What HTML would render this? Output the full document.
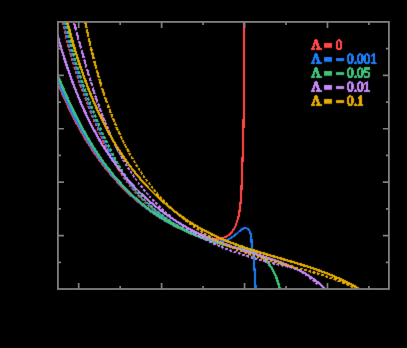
<!DOCTYPE html>
<html><head><meta charset="utf-8"><title>plot</title>
<style>
html,body{margin:0;padding:0;background:#000;}
svg{display:block;}
</style></head>
<body>
<svg width="407" height="348" viewBox="0 0 407 348">
<rect width="407" height="348" fill="#000"/>
<defs><filter id="b" x="-3%" y="-3%" width="106%" height="106%" color-interpolation-filters="sRGB"><feConvolveMatrix order="3" kernelMatrix="0.0144 0.0912 0.0144 0.0912 0.5776 0.0912 0.0144 0.0912 0.0144" divisor="0.88" edgeMode="none" preserveAlpha="false"/></filter><path id="gL" d="M281 -80 461 -53V0H20V-53L165 -80L629 -1352H819L1294 -80L1464 -53V0H897V-53L1077 -80L682 -1197Z"/><path id="g0" d="M946 -676Q946 20 506 20Q294 20 186 -158Q78 -336 78 -676Q78 -1009 186 -1186Q294 -1362 514 -1362Q726 -1362 836 -1188Q946 -1013 946 -676ZM762 -676Q762 -998 701 -1140Q640 -1282 506 -1282Q376 -1282 319 -1148Q262 -1014 262 -676Q262 -336 320 -198Q378 -59 506 -59Q638 -59 700 -204Q762 -350 762 -676Z"/><path id="gp" d="M377 -92Q377 -43 342 -7Q308 29 256 29Q204 29 170 -7Q135 -43 135 -92Q135 -143 170 -178Q205 -213 256 -213Q307 -213 342 -178Q377 -143 377 -92Z"/><path id="g1" d="M627 -80 901 -53V0H180V-53L455 -80V-1174L184 -1077V-1130L575 -1352H627Z"/><path id="g5" d="M485 -784Q717 -784 830 -689Q944 -594 944 -399Q944 -197 821 -88Q698 20 469 20Q279 20 130 -23L119 -305H185L230 -117Q274 -93 336 -78Q397 -63 453 -63Q611 -63 686 -138Q760 -212 760 -389Q760 -513 728 -576Q696 -640 626 -670Q556 -700 438 -700Q347 -700 260 -676H164V-1341H844V-1188H254V-760Q362 -784 485 -784Z"/><clipPath id="c"><rect x="57.9" y="21.9" width="331.0" height="267.1"/></clipPath></defs>
<g clip-path="url(#c)"><g shape-rendering="crispEdges" filter="url(#b)">
<path d="M50.7,68.9 L51.4,70.5 L52.0,72.2 L52.7,73.8 L53.4,75.4 L54.0,77.0 L54.7,78.7 L55.4,80.3 L56.0,81.9 L56.7,83.5 L57.4,85.1 L58.1,86.7 L58.8,88.3 L59.5,90.0 L60.2,91.6 L60.9,93.2 L61.6,94.8 L62.3,96.4 L63.0,98.0 L63.7,99.6 L64.5,101.2 L65.2,102.8 L66.0,104.3 L66.7,105.9 L67.5,107.5 L68.2,109.1 L69.0,110.7 L69.8,112.2 L70.5,113.8 L71.3,115.4 L72.1,117.0 L72.9,118.5 L73.7,120.1 L74.5,121.6 L75.3,123.2 L76.2,124.7 L77.0,126.3 L77.8,127.8 L78.7,129.4 L79.5,130.9 L80.4,132.4 L81.3,133.9 L82.2,135.5 L83.0,137.0 L83.9,138.5 L84.8,140.0 L85.7,141.5 L86.7,143.0 L87.6,144.5 L88.5,146.0 L89.5,147.4 L90.4,148.9 L91.4,150.4 L92.4,151.8 L93.3,153.3 L94.3,154.8 L95.3,156.2 L96.3,157.6 L97.4,159.1 L98.4,160.5 L99.4,161.9 L100.5,163.3 L101.5,164.7 L102.6,166.1 L103.7,167.5 L104.7,168.9 L105.8,170.3 L106.9,171.6 L108.1,173.0 L109.2,174.3 L110.3,175.7 L111.5,177.0 L112.6,178.3 L113.8,179.6 L115.0,180.9 L116.2,182.2 L117.4,183.5 L118.6,184.8 L119.8,186.1 L121.0,187.3 L122.2,188.6 L123.5,189.8 L124.7,191.1 L126.0,192.3 L127.3,193.5 L128.6,194.7 L129.8,195.9 L131.1,197.1 L132.4,198.2 L133.8,199.4 L135.1,200.6 L136.4,201.7 L137.8,202.8 L139.1,203.9 L140.5,205.0 L141.9,206.1 L143.3,207.2 L144.7,208.3 L146.1,209.3 L147.5,210.4 L148.9,211.4 L150.3,212.4 L151.8,213.5 L153.2,214.4 L154.7,215.4 L156.2,216.4 L157.6,217.4 L159.1,218.3 L160.6,219.2 L162.1,220.1 L163.6,221.0 L165.2,221.9 L166.7,222.8 L168.2,223.7 L169.8,224.5 L171.3,225.3 L172.9,226.2 L174.4,227.0 L176.0,227.8 L177.5,228.6 L179.1,229.3 L180.7,230.1 L182.3,230.9 L183.9,231.6 L185.5,232.4 L187.1,233.1 L188.7,233.8 L190.3,234.5 L191.9,235.2 L193.5,235.9 L195.1,236.6 L196.8,237.2 L198.5,237.8 L200.1,238.4 L201.9,238.9 L203.6,239.4 L205.3,239.7 L207.1,240.1 L208.9,240.3 L210.7,240.5 L212.5,240.5 L214.3,240.5 L216.1,240.4 L217.9,240.2 L219.7,239.9 L221.4,239.5 L223.2,239.0 L224.9,238.3 L226.5,237.6 L228.1,236.6 L229.6,235.5 L230.9,234.2 L232.2,232.9 L233.4,231.5 L234.4,230.0 L235.4,228.5 L236.2,226.9 L236.9,225.2 L237.5,223.5 L238.1,221.8 L238.6,220.1 L239.1,218.4 L239.5,216.7 L239.9,215.0 L240.2,213.2 L240.6,211.5 L240.8,209.7 L241.1,208.0 L241.3,206.2 L241.5,204.5 L241.7,202.7 L241.9,201.0 L242.0,199.2 L242.1,197.5 L242.2,195.7 L242.3,194.0 L242.4,192.2 L242.5,190.5 L242.6,188.7 L242.6,187.0 L242.7,185.2 L242.8,183.5 L242.8,181.7 L242.9,180.0 L243.0,178.2 L243.0,176.5 L243.1,174.7 L243.1,173.0 L243.2,171.2 L243.3,169.5 L243.3,167.7 L243.4,166.0 L243.4,164.2 L243.5,162.5 L243.6,160.7 L243.6,159.0 L243.7,157.2 L243.7,155.5 L243.8,153.7 L243.8,152.0 L243.9,150.2 L243.9,148.5 L244.0,146.7 L244.0,145.0 L244.1,143.2 L244.1,141.5 L244.2,139.7 L244.2,138.0 L244.3,136.2 L244.3,134.5 L244.4,132.7 L244.4,131.0 L244.4,129.2 L244.5,127.5 L244.5,125.7 L244.6,124.0 L244.6,122.2 L244.6,120.5 L244.7,118.7 L244.7,117.0 L244.7,115.2 L244.8,113.5 L244.8,111.7 L244.8,110.0 L244.9,108.2 L244.9,106.5 L244.9,104.7 L245.0,103.0 L245.0,101.2 L245.0,99.5 L245.0,97.7 L245.1,96.0 L245.1,94.2 L245.1,92.5 L245.1,90.7 L245.1,89.0 L245.2,87.2 L245.2,85.5 L245.2,83.7 L245.2,82.0 L245.2,80.2 L245.2,78.5 L245.3,76.7 L245.3,75.0 L245.3,73.2 L245.3,71.4 L245.3,69.7 L245.3,67.9 L245.3,66.2 L245.3,64.4 L245.3,62.7 L245.3,60.9 L245.3,59.2 L245.3,57.4 L245.3,55.7 L245.3,53.9 L245.3,52.2 L245.3,50.4 L245.3,48.7 L245.3,46.9 L245.3,45.2 L245.3,43.4 L245.3,41.7 L245.3,39.9 L245.3,38.2 L245.3,36.4 L245.3,34.7 L245.3,32.9 L245.3,31.2 L245.2,29.4 L245.2,27.7 L245.2,25.9 L245.2,24.2 L245.2,22.4 L245.2,20.7 L243.0,20.7 L243.0,22.5 L243.0,24.2 L243.0,26.0 L243.0,27.7 L243.0,29.5 L243.1,31.2 L243.1,33.0 L243.1,34.7 L243.1,36.4 L243.1,38.2 L243.1,39.9 L243.1,41.7 L243.1,43.4 L243.1,45.2 L243.1,46.9 L243.1,48.7 L243.1,50.4 L243.1,52.2 L243.1,53.9 L243.1,55.7 L243.1,57.4 L243.1,59.2 L243.1,60.9 L243.1,62.7 L243.1,64.4 L243.1,66.2 L243.1,67.9 L243.1,69.7 L243.1,71.4 L243.1,73.2 L243.1,74.9 L243.1,76.7 L243.0,78.4 L243.0,80.2 L243.0,81.9 L243.0,83.7 L243.0,85.4 L243.0,87.2 L242.9,88.9 L242.9,90.7 L242.9,92.4 L242.9,94.2 L242.9,95.9 L242.8,97.7 L242.8,99.4 L242.8,101.2 L242.8,102.9 L242.7,104.7 L242.7,106.4 L242.7,108.2 L242.6,109.9 L242.6,111.7 L242.6,113.4 L242.5,115.2 L242.5,116.9 L242.5,118.7 L242.4,120.4 L242.4,122.2 L242.4,123.9 L242.3,125.7 L242.3,127.4 L242.2,129.2 L242.2,130.9 L242.2,132.7 L242.1,134.4 L242.1,136.2 L242.0,137.9 L242.0,139.7 L241.9,141.4 L241.9,143.2 L241.8,144.9 L241.8,146.6 L241.7,148.4 L241.7,150.1 L241.6,151.9 L241.6,153.6 L241.5,155.4 L241.5,157.1 L241.4,158.9 L241.4,160.6 L241.3,162.4 L241.2,164.1 L241.2,165.9 L241.1,167.6 L241.1,169.4 L241.0,171.1 L240.9,172.9 L240.9,174.6 L240.8,176.4 L240.8,178.1 L240.7,179.9 L240.6,181.6 L240.6,183.4 L240.5,185.1 L240.4,186.9 L240.4,188.6 L240.3,190.4 L240.2,192.1 L240.1,193.8 L240.0,195.6 L239.9,197.3 L239.8,199.1 L239.7,200.8 L239.5,202.5 L239.3,204.3 L239.1,206.0 L238.9,207.7 L238.7,209.4 L238.4,211.1 L238.1,212.8 L237.8,214.5 L237.4,216.2 L237.0,217.9 L236.6,219.6 L236.1,221.2 L235.5,222.8 L235.0,224.4 L234.3,226.0 L233.6,227.5 L232.8,229.0 L231.8,230.4 L230.8,231.7 L229.7,233.0 L228.4,234.0 L227.1,235.0 L225.6,235.8 L224.1,236.4 L222.5,237.0 L220.9,237.4 L219.2,237.8 L217.6,238.1 L215.9,238.2 L214.2,238.3 L212.5,238.3 L210.8,238.3 L209.1,238.1 L207.4,237.9 L205.8,237.6 L204.1,237.3 L202.4,236.8 L200.8,236.3 L199.2,235.8 L197.5,235.2 L195.9,234.6 L194.3,234.0 L192.7,233.3 L191.1,232.6 L189.5,231.9 L187.9,231.2 L186.3,230.5 L184.7,229.7 L183.2,229.0 L181.6,228.3 L180.0,227.5 L178.5,226.7 L176.9,226.0 L175.3,225.2 L173.8,224.4 L172.2,223.6 L170.7,222.7 L169.2,221.9 L167.7,221.0 L166.1,220.2 L164.6,219.3 L163.1,218.4 L161.7,217.5 L160.2,216.6 L158.7,215.7 L157.2,214.8 L155.8,213.8 L154.3,212.8 L152.9,211.9 L151.4,210.9 L150.0,209.9 L148.6,208.8 L147.2,207.8 L145.8,206.8 L144.4,205.7 L143.0,204.7 L141.7,203.6 L140.3,202.5 L139.0,201.4 L137.6,200.3 L136.3,199.2 L135.0,198.0 L133.7,196.9 L132.4,195.7 L131.1,194.6 L129.8,193.4 L128.5,192.2 L127.2,191.0 L126.0,189.8 L124.7,188.6 L123.5,187.3 L122.3,186.1 L121.1,184.8 L119.9,183.6 L118.7,182.3 L117.5,181.0 L116.3,179.7 L115.2,178.4 L114.0,177.1 L112.9,175.8 L111.7,174.5 L110.6,173.1 L109.5,171.8 L108.4,170.5 L107.3,169.1 L106.2,167.7 L105.1,166.4 L104.1,165.0 L103.0,163.6 L102.0,162.2 L101.0,160.8 L99.9,159.4 L98.9,158.0 L97.9,156.5 L96.9,155.1 L95.9,153.7 L94.9,152.2 L94.0,150.8 L93.0,149.3 L92.1,147.9 L91.1,146.4 L90.2,144.9 L89.3,143.4 L88.3,141.9 L87.4,140.5 L86.5,139.0 L85.6,137.5 L84.8,136.0 L83.9,134.5 L83.0,132.9 L82.1,131.4 L81.3,129.9 L80.4,128.4 L79.6,126.8 L78.8,125.3 L78.0,123.8 L77.1,122.2 L76.3,120.7 L75.5,119.1 L74.7,117.6 L73.9,116.0 L73.1,114.5 L72.4,112.9 L71.6,111.3 L70.8,109.8 L70.1,108.2 L69.3,106.6 L68.6,105.0 L67.8,103.5 L67.1,101.9 L66.4,100.3 L65.6,98.7 L64.9,97.1 L64.2,95.5 L63.5,93.9 L62.8,92.3 L62.1,90.7 L61.4,89.1 L60.7,87.5 L60.0,85.9 L59.3,84.3 L58.6,82.7 L58.0,81.1 L57.3,79.5 L56.6,77.9 L56.0,76.2 L55.3,74.6 L54.6,73.0 L54.0,71.4 L53.3,69.8 L52.7,68.1Z" fill="#ef4040"/>
<path d="M60.3,13.5 L60.5,14.9 L60.7,15.7 L62.9,15.3 L62.8,14.5 L62.5,13.1Z M60.9,17.2 L61.2,18.6 L61.5,20.1 L61.5,20.4 L63.8,19.9 L63.7,19.7 L63.4,18.2 L63.2,16.8Z M61.8,21.8 L62.1,23.3 L62.4,24.8 L62.5,25.0 L64.7,24.6 L64.6,24.3 L64.3,22.9 L64.0,21.4Z M62.8,26.5 L63.1,28.0 L63.4,29.5 L65.6,29.0 L65.3,27.5 L65.0,26.0Z M63.7,30.9 L64.0,32.4 L64.4,33.9 L64.4,34.1 L66.6,33.6 L66.6,33.4 L66.3,31.9 L65.9,30.4Z M64.8,35.6 L65.1,37.0 L65.5,38.5 L67.7,38.0 L67.3,36.5 L67.0,35.1Z M65.8,40.0 L66.2,41.4 L66.5,42.9 L66.6,43.1 L68.8,42.6 L68.7,42.3 L68.4,40.9 L68.0,39.4Z M67.0,44.6 L67.3,46.0 L67.7,47.5 L67.8,47.7 L70.0,47.2 L69.9,46.9 L69.5,45.5 L69.2,44.0Z M68.2,49.2 L68.6,50.6 L69.0,52.1 L71.1,51.5 L70.7,50.1 L70.3,48.6Z M69.4,53.5 L69.8,55.0 L70.2,56.4 L70.2,56.7 L72.4,56.1 L72.3,55.8 L71.9,54.4 L71.5,52.9Z M70.7,58.1 L71.1,59.6 L71.5,61.0 L73.7,60.4 L73.2,58.9 L72.8,57.5Z M71.9,62.4 L72.4,63.9 L72.8,65.3 L72.9,65.6 L75.0,64.9 L74.9,64.7 L74.5,63.2 L74.1,61.8Z M73.3,67.0 L73.8,68.4 L74.2,69.9 L74.3,70.1 L76.4,69.4 L76.3,69.2 L75.9,67.8 L75.5,66.3Z M74.8,71.5 L75.2,73.0 L75.7,74.4 L77.8,73.7 L77.3,72.3 L76.9,70.9Z M76.2,75.8 L76.6,77.3 L77.1,78.7 L77.2,78.9 L79.3,78.2 L79.2,78.0 L78.7,76.6 L78.3,75.1Z M77.7,80.3 L78.2,81.8 L78.6,83.2 L80.7,82.5 L80.2,81.0 L79.8,79.6Z M79.1,84.6 L79.6,86.0 L80.1,87.4 L80.2,87.7 L82.3,86.9 L82.2,86.7 L81.7,85.3 L81.2,83.9Z M80.7,89.1 L81.2,90.5 L81.8,91.9 L81.8,92.2 L83.9,91.4 L83.8,91.2 L83.3,89.8 L82.8,88.3Z M82.4,93.6 L82.9,95.0 L83.4,96.4 L85.5,95.6 L84.9,94.2 L84.4,92.8Z M83.9,97.8 L84.5,99.2 L85.0,100.6 L85.1,100.8 L87.2,100.0 L87.1,99.8 L86.5,98.4 L86.0,97.0Z M85.6,102.2 L86.2,103.6 L86.7,105.0 L88.8,104.2 L88.2,102.8 L87.7,101.4Z M87.3,106.4 L87.8,107.8 L88.4,109.2 L88.5,109.4 L90.5,108.6 L90.4,108.4 L89.9,107.0 L89.3,105.6Z M89.1,110.8 L89.6,112.2 L90.2,113.6 L90.3,113.9 L92.3,113.0 L92.2,112.8 L91.6,111.4 L91.1,110.0Z M90.9,115.2 L91.4,116.6 L92.0,118.0 L94.0,117.2 L93.4,115.8 L92.9,114.4Z M92.6,119.4 L93.2,120.8 L93.8,122.2 L93.9,122.4 L95.9,121.5 L95.8,121.3 L95.2,119.9 L94.6,118.6Z M94.5,123.8 L95.1,125.2 L95.7,126.5 L97.6,125.7 L97.0,124.3 L96.5,122.9Z M96.3,127.9 L96.9,129.3 L97.5,130.7 L97.6,130.9 L99.5,130.0 L99.4,129.8 L98.8,128.4 L98.2,127.1Z M98.2,132.3 L98.8,133.6 L99.4,135.0 L99.5,135.2 L101.5,134.4 L101.4,134.1 L100.8,132.8 L100.1,131.4Z M100.1,136.6 L100.8,138.0 L101.4,139.3 L103.3,138.4 L102.7,137.1 L102.1,135.7Z M102.0,140.7 L102.7,142.1 L103.3,143.4 L103.4,143.6 L105.4,142.7 L105.2,142.5 L104.6,141.1 L104.0,139.8Z M104.1,145.0 L104.7,146.4 L105.4,147.7 L107.3,146.8 L106.7,145.4 L106.0,144.1Z M106.1,149.1 L106.7,150.4 L107.4,151.7 L107.5,152.0 L109.4,151.0 L109.3,150.8 L108.6,149.4 L108.0,148.1Z M108.2,153.3 L108.9,154.6 L109.6,156.0 L109.7,156.2 L111.6,155.2 L111.5,155.0 L110.8,153.7 L110.1,152.3Z M110.5,157.5 L111.2,158.8 L111.9,160.2 L113.7,159.1 L113.0,157.8 L112.3,156.5Z M112.6,161.5 L113.4,162.8 L114.1,164.1 L114.2,164.3 L116.1,163.3 L115.9,163.1 L115.2,161.8 L114.5,160.4Z M115.0,165.6 L115.8,166.9 L116.6,168.2 L118.3,167.1 L117.6,165.8 L116.8,164.6Z M117.3,169.5 L118.1,170.8 L119.0,172.0 L119.1,172.2 L120.8,171.1 L120.7,170.9 L119.9,169.7 L119.1,168.4Z M119.9,173.5 L120.8,174.8 L121.6,176.0 L121.8,176.2 L123.4,175.1 L123.3,174.9 L122.5,173.6 L121.6,172.4Z M122.6,177.5 L123.5,178.7 L124.4,179.9 L126.0,178.7 L125.1,177.5 L124.3,176.3Z M125.3,181.1 L126.2,182.3 L127.1,183.5 L127.2,183.7 L128.8,182.5 L128.6,182.3 L127.7,181.2 L126.9,179.9Z M128.1,184.9 L129.1,186.1 L130.0,187.3 L131.5,186.1 L130.6,184.9 L129.7,183.7Z M131.0,188.5 L131.9,189.6 L132.9,190.8 L133.1,191.0 L134.6,189.7 L134.4,189.5 L133.4,188.4 L132.5,187.2Z M134.1,192.1 L135.1,193.2 L136.1,194.3 L136.3,194.5 L137.7,193.3 L137.5,193.1 L136.5,192.0 L135.5,190.8Z M137.3,195.6 L138.3,196.7 L139.4,197.8 L140.7,196.5 L139.7,195.4 L138.7,194.4Z M140.4,198.9 L141.5,200.0 L142.6,201.0 L142.7,201.2 L144.0,199.9 L143.9,199.7 L142.8,198.7 L141.7,197.6Z M143.8,202.3 L144.9,203.3 L146.0,204.3 L147.3,202.9 L146.2,201.9 L145.1,200.9Z M147.1,205.4 L148.3,206.4 L149.4,207.4 L149.6,207.5 L150.8,206.1 L150.6,205.9 L149.5,204.9 L148.4,203.9Z M150.7,208.5 L151.9,209.5 L153.0,210.4 L153.2,210.6 L154.5,209.1 L154.3,208.9 L153.1,208.0 L152.0,207.0Z M154.4,211.6 L155.6,212.5 L156.8,213.4 L158.0,211.9 L156.8,211.0 L155.6,210.0Z M158.0,214.4 L159.2,215.3 L160.4,216.1 L160.6,216.3 L161.8,214.7 L161.6,214.5 L160.4,213.7 L159.2,212.8Z M161.8,217.2 L163.1,218.0 L164.3,218.9 L165.4,217.2 L164.2,216.4 L163.0,215.5Z M165.6,219.8 L166.8,220.6 L168.1,221.4 L168.3,221.5 L169.4,219.8 L169.2,219.7 L167.9,218.9 L166.7,218.0Z M169.6,222.3 L170.8,223.1 L172.1,223.9 L172.4,224.1 L173.4,222.3 L173.2,222.1 L171.9,221.4 L170.6,220.6Z M173.7,224.8 L175.0,225.6 L176.3,226.3 L177.3,224.5 L176.0,223.8 L174.7,223.0Z M177.6,227.1 L178.9,227.8 L180.3,228.5 L180.5,228.6 L181.5,226.7 L181.2,226.6 L179.9,225.9 L178.6,225.2Z M181.8,229.3 L183.2,230.0 L184.5,230.6 L185.5,228.7 L184.1,228.0 L182.8,227.4Z M185.9,231.3 L187.3,231.9 L188.6,232.6 L188.8,232.7 L189.7,230.7 L189.5,230.6 L188.2,230.0 L186.8,229.3Z M190.2,233.3 L191.6,233.9 L193.0,234.5 L193.2,234.6 L194.1,232.6 L193.8,232.5 L192.5,231.9 L191.1,231.3Z" fill="#ef4040"/>
<path d="M52.0,68.5 L52.6,70.1 L53.2,71.7 L53.9,73.4 L54.5,75.0 L55.1,76.6 L55.8,78.3 L56.4,79.9 L57.1,81.5 L57.7,83.2 L58.4,84.8 L59.1,86.4 L59.8,88.0 L60.4,89.6 L61.1,91.2 L61.8,92.9 L62.5,94.5 L63.2,96.1 L63.9,97.7 L64.7,99.3 L65.4,100.9 L66.1,102.5 L66.9,104.1 L67.6,105.6 L68.4,107.2 L69.1,108.8 L69.9,110.4 L70.6,112.0 L71.4,113.5 L72.2,115.1 L73.0,116.7 L73.8,118.2 L74.6,119.8 L75.4,121.3 L76.2,122.9 L77.1,124.4 L77.9,126.0 L78.8,127.5 L79.6,129.1 L80.5,130.6 L81.3,132.1 L82.2,133.6 L83.1,135.2 L84.0,136.7 L84.9,138.2 L85.8,139.7 L86.7,141.2 L87.6,142.7 L88.5,144.2 L89.5,145.6 L90.4,147.1 L91.4,148.6 L92.3,150.1 L93.3,151.5 L94.3,153.0 L95.3,154.4 L96.3,155.9 L97.3,157.3 L98.3,158.8 L99.3,160.2 L100.3,161.6 L101.4,163.0 L102.4,164.4 L103.5,165.8 L104.6,167.2 L105.6,168.6 L106.7,170.0 L107.8,171.4 L108.9,172.7 L110.1,174.1 L111.2,175.4 L112.3,176.8 L113.5,178.1 L114.6,179.4 L115.8,180.7 L117.0,182.0 L118.1,183.3 L119.3,184.6 L120.5,185.9 L121.7,187.2 L123.0,188.4 L124.2,189.7 L125.4,190.9 L126.7,192.2 L127.9,193.4 L129.2,194.6 L130.5,195.8 L131.8,197.0 L133.1,198.2 L134.4,199.4 L135.7,200.6 L137.0,201.7 L138.4,202.8 L139.7,204.0 L141.1,205.1 L142.4,206.2 L143.8,207.3 L145.2,208.4 L146.6,209.4 L148.0,210.5 L149.4,211.5 L150.8,212.6 L152.3,213.6 L153.7,214.6 L155.2,215.6 L156.6,216.6 L158.1,217.5 L159.6,218.5 L161.1,219.4 L162.6,220.3 L164.1,221.2 L165.6,222.1 L167.1,223.0 L168.7,223.9 L170.2,224.7 L171.8,225.6 L173.3,226.4 L174.9,227.2 L176.4,228.0 L178.0,228.7 L179.6,229.5 L181.2,230.3 L182.8,231.0 L184.4,231.7 L186.0,232.4 L187.6,233.1 L189.3,233.8 L190.9,234.4 L192.5,235.1 L194.1,235.7 L195.8,236.4 L197.4,237.0 L199.0,237.7 L200.7,238.3 L202.3,238.9 L203.9,239.6 L205.6,240.2 L207.3,240.7 L209.0,241.3 L210.7,241.7 L212.5,242.1 L214.3,242.4 L216.1,242.6 L217.9,242.7 L219.7,242.7 L221.5,242.5 L223.4,242.1 L225.1,241.7 L226.8,241.1 L228.5,240.4 L230.1,239.6 L231.7,238.7 L233.2,237.7 L234.7,236.6 L236.0,235.4 L237.4,234.2 L238.6,233.1 L240.0,232.0 L241.3,230.9 L242.7,230.0 L244.1,229.4 L245.4,229.2 L246.7,229.4 L247.9,230.2 L248.6,231.5 L249.2,232.9 L249.6,234.5 L249.9,236.2 L250.1,237.9 L250.3,239.6 L250.4,241.3 L250.5,243.0 L250.7,244.8 L250.8,246.6 L251.0,248.3 L251.3,250.1 L251.5,251.8 L251.8,253.6 L252.0,255.3 L252.3,257.0 L252.5,258.7 L252.7,260.4 L252.9,262.2 L253.0,263.9 L253.1,265.6 L253.3,267.4 L253.4,269.1 L253.5,270.9 L253.6,272.6 L253.7,274.4 L253.8,276.1 L253.8,277.8 L253.9,279.6 L254.1,281.3 L254.2,283.1 L254.3,284.9 L254.4,286.6 L254.6,288.4 L254.8,290.1 L256.9,289.9 L256.8,288.2 L256.6,286.4 L256.5,284.7 L256.4,283.0 L256.2,281.2 L256.1,279.5 L256.0,277.7 L255.9,276.0 L255.9,274.2 L255.8,272.5 L255.7,270.7 L255.6,269.0 L255.4,267.2 L255.3,265.5 L255.2,263.7 L255.0,262.0 L254.9,260.2 L254.7,258.5 L254.5,256.7 L254.2,255.0 L253.9,253.2 L253.7,251.5 L253.4,249.8 L253.2,248.1 L253.0,246.3 L252.8,244.6 L252.7,242.9 L252.6,241.1 L252.5,239.4 L252.3,237.6 L252.1,235.8 L251.7,234.0 L251.2,232.2 L250.4,230.5 L249.2,228.9 L247.6,227.6 L245.5,227.0 L243.4,227.4 L241.7,228.3 L240.2,229.4 L238.8,230.5 L237.4,231.7 L236.1,232.9 L234.8,234.0 L233.5,235.1 L232.1,236.1 L230.7,237.0 L229.2,237.8 L227.7,238.5 L226.1,239.1 L224.5,239.6 L222.9,240.0 L221.2,240.3 L219.6,240.5 L217.9,240.5 L216.2,240.4 L214.6,240.3 L212.9,240.0 L211.2,239.6 L209.6,239.2 L207.9,238.7 L206.3,238.2 L204.7,237.6 L203.0,237.0 L201.4,236.4 L199.8,235.7 L198.2,235.1 L196.5,234.4 L194.9,233.8 L193.3,233.1 L191.7,232.5 L190.1,231.8 L188.4,231.2 L186.8,230.5 L185.2,229.8 L183.7,229.1 L182.1,228.4 L180.5,227.6 L178.9,226.9 L177.4,226.1 L175.8,225.4 L174.2,224.6 L172.7,223.8 L171.2,222.9 L169.6,222.1 L168.1,221.3 L166.6,220.4 L165.1,219.5 L163.6,218.6 L162.1,217.7 L160.6,216.8 L159.2,215.9 L157.7,214.9 L156.3,214.0 L154.8,213.0 L153.4,212.0 L152.0,211.0 L150.5,210.0 L149.1,209.0 L147.7,207.9 L146.3,206.9 L145.0,205.8 L143.6,204.7 L142.2,203.7 L140.9,202.6 L139.6,201.4 L138.2,200.3 L136.9,199.2 L135.6,198.0 L134.3,196.9 L133.0,195.7 L131.7,194.5 L130.4,193.3 L129.2,192.1 L127.9,190.9 L126.7,189.7 L125.5,188.5 L124.2,187.2 L123.0,185.9 L121.8,184.7 L120.6,183.4 L119.5,182.1 L118.3,180.8 L117.1,179.5 L116.0,178.2 L114.9,176.9 L113.7,175.6 L112.6,174.2 L111.5,172.9 L110.4,171.5 L109.3,170.2 L108.2,168.8 L107.1,167.4 L106.1,166.1 L105.0,164.7 L104.0,163.3 L102.9,161.9 L101.9,160.5 L100.9,159.1 L99.9,157.6 L98.9,156.2 L97.9,154.8 L96.9,153.3 L95.9,151.9 L94.9,150.4 L94.0,149.0 L93.0,147.5 L92.1,146.1 L91.1,144.6 L90.2,143.1 L89.3,141.6 L88.4,140.1 L87.5,138.7 L86.6,137.2 L85.7,135.7 L84.8,134.1 L83.9,132.6 L83.1,131.1 L82.2,129.6 L81.4,128.1 L80.5,126.6 L79.7,125.0 L78.9,123.5 L78.0,121.9 L77.2,120.4 L76.4,118.9 L75.6,117.3 L74.8,115.7 L74.0,114.2 L73.3,112.6 L72.5,111.1 L71.7,109.5 L71.0,107.9 L70.2,106.3 L69.5,104.8 L68.7,103.2 L68.0,101.6 L67.3,100.0 L66.5,98.4 L65.8,96.8 L65.1,95.2 L64.4,93.6 L63.7,92.0 L63.0,90.4 L62.4,88.8 L61.7,87.2 L61.0,85.6 L60.3,84.0 L59.7,82.4 L59.0,80.7 L58.4,79.1 L57.7,77.5 L57.1,75.9 L56.5,74.2 L55.8,72.6 L55.2,71.0 L54.6,69.4 L54.0,67.7Z" fill="#1a70de"/>
<path d="M61.4,13.5 L61.6,14.9 L61.8,15.7 L64.0,15.3 L63.9,14.5 L63.6,13.1Z M62.0,17.2 L62.3,18.6 L62.6,20.1 L62.6,20.4 L64.9,19.9 L64.8,19.7 L64.5,18.2 L64.3,16.8Z M62.9,21.8 L63.2,23.3 L63.5,24.8 L63.6,25.0 L65.8,24.6 L65.7,24.3 L65.4,22.9 L65.1,21.4Z M63.9,26.5 L64.2,28.0 L64.5,29.5 L66.7,29.0 L66.4,27.5 L66.1,26.0Z M64.8,30.9 L65.1,32.4 L65.5,33.9 L65.5,34.1 L67.7,33.6 L67.7,33.4 L67.4,31.9 L67.0,30.4Z M65.9,35.6 L66.2,37.0 L66.6,38.5 L68.8,38.0 L68.4,36.5 L68.1,35.1Z M66.9,40.0 L67.3,41.4 L67.6,42.9 L67.7,43.1 L69.9,42.6 L69.8,42.3 L69.5,40.9 L69.1,39.4Z M68.1,44.6 L68.4,46.0 L68.8,47.5 L68.9,47.7 L71.1,47.2 L71.0,46.9 L70.6,45.5 L70.3,44.0Z M69.3,49.2 L69.7,50.6 L70.1,52.1 L72.2,51.5 L71.8,50.1 L71.4,48.6Z M70.5,53.5 L70.9,55.0 L71.3,56.4 L71.3,56.7 L73.5,56.1 L73.4,55.8 L73.0,54.4 L72.6,52.9Z M71.8,58.1 L72.2,59.6 L72.6,61.0 L74.8,60.4 L74.3,58.9 L73.9,57.5Z M73.0,62.4 L73.5,63.9 L73.9,65.3 L74.0,65.6 L76.1,64.9 L76.0,64.7 L75.6,63.2 L75.2,61.8Z M74.4,67.0 L74.9,68.4 L75.3,69.9 L75.4,70.1 L77.5,69.4 L77.4,69.2 L77.0,67.8 L76.6,66.3Z M75.9,71.5 L76.3,73.0 L76.8,74.4 L78.9,73.7 L78.4,72.3 L78.0,70.9Z M77.3,75.8 L77.7,77.3 L78.2,78.7 L78.3,78.9 L80.4,78.2 L80.3,78.0 L79.8,76.6 L79.4,75.1Z M78.8,80.3 L79.3,81.8 L79.7,83.2 L81.8,82.5 L81.3,81.0 L80.9,79.6Z M80.2,84.6 L80.7,86.0 L81.2,87.4 L81.3,87.7 L83.4,86.9 L83.3,86.7 L82.8,85.3 L82.3,83.9Z M81.8,89.1 L82.3,90.5 L82.9,91.9 L82.9,92.2 L85.0,91.4 L84.9,91.2 L84.4,89.8 L83.9,88.3Z M83.5,93.6 L84.0,95.0 L84.5,96.4 L86.6,95.6 L86.0,94.2 L85.5,92.8Z M85.0,97.8 L85.6,99.2 L86.1,100.6 L86.2,100.8 L88.3,100.0 L88.2,99.8 L87.6,98.4 L87.1,97.0Z M86.7,102.2 L87.3,103.6 L87.8,105.0 L89.9,104.2 L89.3,102.8 L88.8,101.4Z M88.4,106.4 L88.9,107.8 L89.5,109.2 L89.6,109.4 L91.6,108.6 L91.5,108.4 L91.0,107.0 L90.4,105.6Z M90.2,110.8 L90.7,112.2 L91.3,113.6 L91.4,113.9 L93.4,113.0 L93.3,112.8 L92.7,111.4 L92.2,110.0Z M92.0,115.2 L92.5,116.6 L93.1,118.0 L95.1,117.2 L94.5,115.8 L94.0,114.4Z M93.7,119.4 L94.3,120.8 L94.9,122.2 L95.0,122.4 L97.0,121.5 L96.9,121.3 L96.3,119.9 L95.7,118.6Z M95.6,123.8 L96.2,125.2 L96.8,126.5 L98.7,125.7 L98.1,124.3 L97.6,122.9Z M97.4,127.9 L98.0,129.3 L98.6,130.7 L98.7,130.9 L100.6,130.0 L100.5,129.8 L99.9,128.4 L99.3,127.1Z M99.3,132.3 L99.9,133.6 L100.5,135.0 L100.6,135.2 L102.6,134.4 L102.5,134.1 L101.9,132.8 L101.2,131.4Z M101.2,136.6 L101.9,138.0 L102.5,139.3 L104.4,138.4 L103.8,137.1 L103.2,135.7Z M103.1,140.7 L103.8,142.1 L104.4,143.4 L104.5,143.6 L106.5,142.7 L106.3,142.5 L105.7,141.1 L105.1,139.8Z M105.2,145.0 L105.8,146.4 L106.5,147.7 L108.4,146.8 L107.8,145.4 L107.1,144.1Z M107.2,149.1 L107.8,150.4 L108.5,151.7 L108.6,152.0 L110.5,151.0 L110.4,150.8 L109.7,149.4 L109.1,148.1Z M109.3,153.3 L110.0,154.6 L110.7,156.0 L110.8,156.2 L112.7,155.2 L112.6,155.0 L111.9,153.7 L111.2,152.3Z M111.6,157.5 L112.3,158.8 L113.0,160.2 L114.8,159.1 L114.1,157.8 L113.4,156.5Z M113.7,161.5 L114.5,162.8 L115.2,164.1 L115.3,164.3 L117.2,163.3 L117.0,163.1 L116.3,161.8 L115.6,160.4Z M116.1,165.6 L116.9,166.9 L117.7,168.2 L119.4,167.1 L118.7,165.8 L117.9,164.6Z M118.4,169.5 L119.2,170.8 L120.0,172.0 L120.2,172.2 L121.9,171.1 L121.8,170.9 L121.0,169.7 L120.2,168.4Z M121.0,173.5 L121.8,174.8 L122.7,176.0 L122.8,176.2 L124.5,175.1 L124.4,174.9 L123.5,173.7 L122.7,172.4Z M123.7,177.5 L124.5,178.7 L125.4,180.0 L127.0,178.8 L126.2,177.6 L125.3,176.3Z M126.3,181.2 L127.2,182.4 L128.1,183.6 L128.2,183.8 L129.8,182.6 L129.7,182.4 L128.8,181.2 L127.9,180.0Z M129.1,185.0 L130.1,186.2 L131.0,187.4 L132.5,186.2 L131.6,185.0 L130.7,183.8Z M131.9,188.6 L132.9,189.7 L133.9,190.9 L134.0,191.1 L135.5,189.8 L135.3,189.6 L134.4,188.5 L133.4,187.3Z M135.0,192.2 L136.0,193.3 L137.0,194.5 L137.2,194.7 L138.6,193.4 L138.4,193.2 L137.4,192.1 L136.5,191.0Z M138.2,195.8 L139.2,196.9 L140.3,198.0 L141.6,196.7 L140.6,195.6 L139.6,194.5Z M141.3,199.1 L142.4,200.1 L143.4,201.2 L143.6,201.4 L144.9,200.1 L144.7,199.9 L143.7,198.8 L142.6,197.8Z M144.7,202.4 L145.8,203.5 L146.9,204.5 L148.2,203.2 L147.1,202.1 L146.0,201.1Z M148.0,205.6 L149.1,206.6 L150.2,207.6 L150.4,207.7 L151.7,206.3 L151.5,206.1 L150.4,205.2 L149.3,204.2Z M151.5,208.7 L152.7,209.7 L153.8,210.7 L154.0,210.8 L155.3,209.4 L155.1,209.2 L153.9,208.2 L152.8,207.3Z M155.2,211.8 L156.4,212.8 L157.6,213.7 L158.8,212.1 L157.6,211.2 L156.4,210.3Z M158.8,214.6 L160.0,215.5 L161.2,216.4 L161.4,216.6 L162.6,215.0 L162.4,214.8 L161.1,213.9 L160.0,213.0Z M162.6,217.5 L163.8,218.3 L165.1,219.2 L166.2,217.5 L165.0,216.7 L163.8,215.8Z M166.3,220.1 L167.6,220.9 L168.8,221.7 L169.0,221.8 L170.2,220.1 L169.9,220.0 L168.7,219.2 L167.4,218.4Z M170.3,222.7 L171.6,223.5 L172.9,224.2 L173.1,224.4 L174.2,222.6 L174.0,222.5 L172.7,221.7 L171.4,220.9Z M174.4,225.2 L175.7,225.9 L177.0,226.7 L178.1,224.8 L176.7,224.1 L175.5,223.3Z M178.3,227.4 L179.7,228.1 L181.0,228.8 L181.2,228.9 L182.2,227.0 L182.0,226.9 L180.7,226.2 L179.3,225.5Z M182.6,229.6 L183.9,230.3 L185.3,231.0 L186.2,229.1 L184.9,228.4 L183.5,227.7Z M186.6,231.6 L188.0,232.3 L189.4,232.9 L189.6,233.0 L190.5,231.0 L190.3,230.9 L188.9,230.3 L187.5,229.7Z M191.0,233.6 L192.4,234.2 L193.8,234.8 L194.0,234.9 L194.8,232.9 L194.6,232.8 L193.2,232.2 L191.8,231.6Z" fill="#1a70de"/>
<path d="M55.0,72.4 L55.7,74.0 L56.4,75.6 L57.0,77.2 L57.7,78.9 L58.4,80.5 L59.1,82.1 L59.8,83.7 L60.5,85.3 L61.2,86.9 L61.9,88.5 L62.6,90.1 L63.3,91.7 L64.0,93.3 L64.7,94.9 L65.5,96.5 L66.2,98.1 L66.9,99.7 L67.6,101.3 L68.4,102.9 L69.1,104.5 L69.9,106.1 L70.6,107.7 L71.4,109.2 L72.2,110.8 L72.9,112.4 L73.7,114.0 L74.5,115.5 L75.3,117.1 L76.1,118.7 L76.9,120.2 L77.7,121.8 L78.5,123.3 L79.3,124.9 L80.1,126.4 L81.0,128.0 L81.8,129.5 L82.6,131.1 L83.5,132.6 L84.3,134.1 L85.2,135.7 L86.1,137.2 L87.0,138.7 L87.9,140.2 L88.8,141.7 L89.7,143.2 L90.6,144.7 L91.5,146.2 L92.4,147.7 L93.4,149.2 L94.3,150.7 L95.3,152.1 L96.3,153.6 L97.2,155.1 L98.2,156.5 L99.2,158.0 L100.2,159.4 L101.2,160.9 L102.3,162.3 L103.3,163.7 L104.3,165.1 L105.4,166.5 L106.4,167.9 L107.5,169.3 L108.6,170.7 L109.7,172.1 L110.8,173.4 L111.9,174.8 L113.0,176.2 L114.2,177.5 L115.3,178.8 L116.5,180.2 L117.6,181.5 L118.8,182.8 L120.0,184.1 L121.2,185.4 L122.4,186.6 L123.6,187.9 L124.9,189.2 L126.1,190.4 L127.3,191.7 L128.6,192.9 L129.9,194.1 L131.1,195.3 L132.4,196.5 L133.7,197.7 L135.0,198.9 L136.3,200.1 L137.6,201.3 L139.0,202.4 L140.3,203.5 L141.7,204.7 L143.0,205.8 L144.4,206.9 L145.8,208.0 L147.2,209.1 L148.5,210.1 L150.0,211.2 L151.4,212.2 L152.8,213.3 L154.2,214.3 L155.7,215.3 L157.1,216.3 L158.6,217.3 L160.1,218.3 L161.5,219.2 L163.0,220.2 L164.5,221.1 L166.0,222.0 L167.5,222.9 L169.0,223.8 L170.6,224.7 L172.1,225.5 L173.7,226.4 L175.2,227.2 L176.8,228.0 L178.3,228.8 L179.9,229.6 L181.5,230.4 L183.1,231.2 L184.7,231.9 L186.3,232.6 L187.9,233.4 L189.5,234.1 L191.1,234.8 L192.7,235.5 L194.3,236.1 L196.0,236.8 L197.6,237.4 L199.3,238.1 L200.9,238.7 L202.6,239.3 L204.2,239.9 L205.9,240.5 L207.5,241.0 L209.2,241.6 L210.9,242.1 L212.5,242.7 L214.2,243.2 L215.9,243.7 L217.6,244.2 L219.3,244.7 L221.0,245.2 L222.7,245.7 L224.4,246.1 L226.1,246.6 L227.8,247.0 L229.5,247.4 L231.2,247.9 L232.9,248.3 L234.6,248.7 L236.3,249.1 L238.0,249.5 L239.7,249.9 L241.4,250.3 L243.0,250.7 L244.7,251.2 L246.4,251.7 L248.0,252.2 L249.6,252.7 L251.3,253.3 L252.9,254.0 L254.4,254.6 L256.0,255.4 L257.5,256.1 L259.0,257.0 L260.4,257.9 L261.8,258.8 L263.1,259.9 L264.4,261.0 L265.7,262.1 L266.8,263.4 L267.9,264.7 L268.9,266.1 L269.8,267.5 L270.8,268.9 L271.6,270.4 L272.5,271.9 L273.2,273.4 L274.0,275.0 L274.6,276.5 L275.3,278.1 L275.9,279.7 L276.4,281.4 L276.9,283.0 L277.4,284.7 L277.8,286.3 L278.1,288.0 L278.4,289.7 L280.9,289.3 L280.6,287.5 L280.3,285.8 L279.8,284.0 L279.3,282.3 L278.8,280.6 L278.2,278.9 L277.6,277.2 L276.9,275.6 L276.2,274.0 L275.4,272.3 L274.6,270.8 L273.7,269.2 L272.7,267.7 L271.7,266.2 L270.7,264.7 L269.6,263.3 L268.4,262.0 L267.2,260.7 L265.9,259.4 L264.5,258.2 L263.1,257.0 L261.7,256.0 L260.2,255.0 L258.6,254.0 L257.1,253.2 L255.4,252.4 L253.8,251.7 L252.1,251.0 L250.5,250.4 L248.8,249.8 L247.1,249.3 L245.4,248.8 L243.7,248.3 L242.0,247.8 L240.3,247.4 L238.6,247.0 L236.9,246.6 L235.2,246.2 L233.5,245.8 L231.8,245.4 L230.1,245.0 L228.4,244.6 L226.7,244.1 L225.0,243.7 L223.3,243.2 L221.6,242.8 L220.0,242.3 L218.3,241.8 L216.6,241.3 L215.0,240.8 L213.3,240.3 L211.6,239.8 L210.0,239.2 L208.3,238.7 L206.7,238.1 L205.0,237.5 L203.4,236.9 L201.8,236.3 L200.1,235.7 L198.5,235.1 L196.9,234.5 L195.3,233.8 L193.7,233.2 L192.1,232.5 L190.5,231.8 L188.9,231.1 L187.3,230.4 L185.7,229.7 L184.1,229.0 L182.5,228.2 L181.0,227.5 L179.4,226.7 L177.9,225.9 L176.3,225.1 L174.8,224.3 L173.3,223.4 L171.7,222.6 L170.2,221.7 L168.7,220.9 L167.2,220.0 L165.7,219.1 L164.3,218.2 L162.8,217.3 L161.3,216.3 L159.9,215.4 L158.4,214.4 L157.0,213.4 L155.5,212.4 L154.1,211.4 L152.7,210.4 L151.3,209.4 L149.9,208.3 L148.5,207.3 L147.1,206.2 L145.8,205.2 L144.4,204.1 L143.1,203.0 L141.7,201.9 L140.4,200.7 L139.1,199.6 L137.7,198.5 L136.4,197.3 L135.1,196.2 L133.9,195.0 L132.6,193.8 L131.3,192.6 L130.1,191.4 L128.8,190.2 L127.6,189.0 L126.4,187.7 L125.2,186.5 L124.0,185.2 L122.8,183.9 L121.6,182.6 L120.4,181.3 L119.3,180.0 L118.1,178.7 L117.0,177.4 L115.8,176.1 L114.7,174.8 L113.6,173.4 L112.5,172.1 L111.4,170.7 L110.4,169.3 L109.3,168.0 L108.2,166.6 L107.2,165.2 L106.1,163.8 L105.1,162.4 L104.1,161.0 L103.1,159.5 L102.1,158.1 L101.1,156.7 L100.1,155.2 L99.1,153.8 L98.2,152.3 L97.2,150.9 L96.3,149.4 L95.3,147.9 L94.4,146.5 L93.5,145.0 L92.6,143.5 L91.7,142.0 L90.8,140.5 L89.9,139.0 L89.0,137.5 L88.1,136.0 L87.3,134.5 L86.4,133.0 L85.6,131.4 L84.7,129.9 L83.9,128.4 L83.1,126.9 L82.2,125.3 L81.4,123.8 L80.6,122.2 L79.8,120.7 L79.0,119.1 L78.2,117.6 L77.4,116.0 L76.6,114.5 L75.9,112.9 L75.1,111.3 L74.3,109.8 L73.6,108.2 L72.8,106.6 L72.1,105.0 L71.3,103.4 L70.6,101.9 L69.9,100.3 L69.1,98.7 L68.4,97.1 L67.7,95.5 L67.0,93.9 L66.2,92.3 L65.5,90.7 L64.8,89.1 L64.1,87.5 L63.4,85.9 L62.7,84.3 L62.0,82.7 L61.4,81.1 L60.7,79.5 L60.0,77.9 L59.3,76.3 L58.6,74.7 L57.9,73.1 L57.3,71.5Z" fill="#3aad6b"/>
<path d="M63.1,13.5 L63.4,14.9 L63.5,15.7 L65.7,15.3 L65.6,14.5 L65.4,13.1Z M63.8,17.2 L64.1,18.6 L64.3,20.1 L64.4,20.4 L66.6,19.9 L66.6,19.7 L66.3,18.2 L66.0,16.8Z M64.7,21.8 L65.0,23.3 L65.3,24.8 L65.3,25.0 L67.5,24.6 L67.5,24.3 L67.2,22.9 L66.9,21.4Z M65.6,26.5 L65.9,28.0 L66.2,29.5 L68.5,29.0 L68.1,27.5 L67.8,26.0Z M66.6,30.9 L66.9,32.4 L67.2,33.9 L67.3,34.1 L69.5,33.6 L69.4,33.4 L69.1,31.9 L68.8,30.4Z M67.6,35.6 L68.0,37.0 L68.3,38.5 L70.5,38.0 L70.2,36.5 L69.8,35.1Z M68.7,40.0 L69.0,41.4 L69.4,42.9 L69.5,43.1 L71.6,42.6 L71.6,42.3 L71.2,40.9 L70.9,39.4Z M69.8,44.6 L70.2,46.0 L70.6,47.5 L70.6,47.7 L72.8,47.2 L72.8,46.9 L72.4,45.5 L72.0,44.0Z M71.0,49.2 L71.4,50.6 L71.8,52.1 L74.0,51.5 L73.6,50.1 L73.2,48.6Z M72.2,53.5 L72.6,55.0 L73.0,56.4 L73.1,56.7 L75.3,56.1 L75.2,55.8 L74.8,54.4 L74.4,52.9Z M73.5,58.1 L73.9,59.6 L74.4,61.0 L76.5,60.4 L76.1,58.9 L75.7,57.5Z M74.8,62.4 L75.2,63.9 L75.7,65.3 L75.7,65.6 L77.9,64.9 L77.8,64.7 L77.4,63.2 L76.9,61.8Z M76.2,67.0 L76.6,68.4 L77.1,69.9 L77.1,70.1 L79.3,69.4 L79.2,69.2 L78.7,67.8 L78.3,66.3Z M77.6,71.5 L78.1,73.0 L78.5,74.4 L80.6,73.7 L80.2,72.3 L79.7,70.9Z M79.0,75.8 L79.5,77.3 L80.0,78.7 L80.0,78.9 L82.1,78.2 L82.1,78.0 L81.6,76.6 L81.1,75.1Z M80.5,80.3 L81.0,81.8 L81.5,83.2 L83.6,82.5 L83.1,81.0 L82.6,79.6Z M82.0,84.6 L82.5,86.0 L83.0,87.4 L83.1,87.7 L85.2,86.9 L85.1,86.7 L84.6,85.3 L84.1,83.9Z M83.6,89.1 L84.1,90.5 L84.6,91.9 L84.7,92.2 L86.8,91.4 L86.7,91.2 L86.2,89.8 L85.7,88.3Z M85.2,93.6 L85.7,95.0 L86.3,96.4 L88.3,95.6 L87.8,94.2 L87.3,92.8Z M86.8,97.8 L87.3,99.2 L87.9,100.6 L88.0,100.8 L90.0,100.0 L89.9,99.8 L89.4,98.4 L88.8,97.0Z M88.5,102.2 L89.0,103.6 L89.6,105.0 L91.6,104.2 L91.1,102.8 L90.5,101.4Z M90.1,106.4 L90.7,107.8 L91.3,109.2 L91.3,109.4 L93.4,108.6 L93.3,108.4 L92.7,107.0 L92.2,105.6Z M91.9,110.8 L92.5,112.2 L93.0,113.6 L93.1,113.9 L95.2,113.0 L95.1,112.8 L94.5,111.4 L93.9,110.0Z M93.7,115.2 L94.3,116.6 L94.9,118.0 L96.9,117.2 L96.3,115.8 L95.7,114.4Z M95.4,119.4 L96.0,120.8 L96.6,122.2 L96.7,122.4 L98.7,121.5 L98.6,121.3 L98.0,119.9 L97.5,118.6Z M97.3,123.8 L97.9,125.2 L98.5,126.5 L100.5,125.7 L99.9,124.3 L99.3,122.9Z M99.1,127.9 L99.7,129.3 L100.3,130.7 L100.4,130.9 L102.4,130.0 L102.3,129.8 L101.7,128.4 L101.1,127.1Z M101.0,132.3 L101.6,133.6 L102.3,135.0 L102.4,135.2 L104.3,134.4 L104.2,134.1 L103.6,132.8 L103.0,131.4Z M103.0,136.6 L103.6,138.0 L104.2,139.3 L106.2,138.4 L105.6,137.1 L104.9,135.7Z M104.9,140.7 L105.5,142.1 L106.2,143.4 L106.3,143.6 L108.2,142.7 L108.1,142.5 L107.5,141.1 L106.8,139.8Z M106.9,145.0 L107.6,146.4 L108.2,147.7 L110.2,146.8 L109.5,145.4 L108.8,144.1Z M108.9,149.1 L109.6,150.4 L110.3,151.7 L110.4,152.0 L112.3,151.0 L112.2,150.8 L111.5,149.4 L110.8,148.1Z M111.1,153.3 L111.8,154.6 L112.5,156.0 L112.6,156.2 L114.5,155.2 L114.3,155.0 L113.6,153.7 L113.0,152.3Z M113.3,157.5 L114.0,158.8 L114.7,160.2 L116.6,159.1 L115.9,157.8 L115.2,156.5Z M115.5,161.5 L116.2,162.8 L117.0,164.1 L117.1,164.3 L118.9,163.3 L118.8,163.1 L118.0,161.8 L117.3,160.4Z M117.9,165.6 L118.6,166.9 L119.4,168.2 L121.2,167.1 L120.4,165.8 L119.7,164.6Z M120.2,169.5 L121.0,170.8 L121.8,172.0 L121.9,172.3 L123.7,171.2 L123.5,171.0 L122.7,169.7 L122.0,168.4Z M122.7,173.5 L123.5,174.8 L124.3,176.1 L124.5,176.3 L126.2,175.2 L126.1,174.9 L125.2,173.7 L124.4,172.4Z M125.3,177.5 L126.2,178.8 L127.0,180.0 L128.7,178.9 L127.8,177.6 L127.0,176.4Z M127.9,181.3 L128.7,182.5 L129.6,183.7 L129.8,183.9 L131.4,182.7 L131.3,182.5 L130.4,181.3 L129.5,180.1Z M130.7,185.1 L131.6,186.3 L132.5,187.5 L134.1,186.3 L133.2,185.1 L132.3,183.9Z M133.5,188.7 L134.4,189.9 L135.4,191.0 L135.5,191.2 L137.0,190.0 L136.9,189.8 L135.9,188.7 L135.0,187.5Z M136.5,192.4 L137.5,193.5 L138.5,194.7 L138.6,194.9 L140.1,193.6 L139.9,193.4 L138.9,192.3 L138.0,191.2Z M139.6,196.0 L140.6,197.1 L141.7,198.2 L143.1,196.9 L142.0,195.8 L141.0,194.7Z M142.7,199.3 L143.8,200.4 L144.8,201.5 L145.0,201.7 L146.3,200.4 L146.1,200.2 L145.1,199.1 L144.1,198.0Z M146.1,202.7 L147.1,203.8 L148.2,204.8 L149.5,203.5 L148.4,202.5 L147.4,201.4Z M149.3,205.9 L150.4,206.9 L151.5,207.9 L151.7,208.1 L153.0,206.7 L152.8,206.5 L151.7,205.5 L150.6,204.5Z M152.8,209.1 L154.0,210.1 L155.1,211.1 L155.3,211.2 L156.6,209.8 L156.4,209.6 L155.2,208.6 L154.1,207.7Z M156.5,212.2 L157.6,213.2 L158.8,214.1 L160.0,212.6 L158.9,211.6 L157.7,210.7Z M160.0,215.0 L161.2,216.0 L162.4,216.9 L162.6,217.0 L163.8,215.4 L163.6,215.3 L162.4,214.4 L161.2,213.5Z M163.8,217.9 L165.0,218.8 L166.3,219.7 L167.4,218.0 L166.2,217.2 L165.0,216.3Z M167.5,220.5 L168.8,221.4 L170.0,222.2 L170.2,222.4 L171.4,220.6 L171.1,220.5 L169.9,219.7 L168.7,218.9Z M171.5,223.2 L172.8,224.0 L174.1,224.8 L174.3,224.9 L175.4,223.1 L175.1,223.0 L173.9,222.2 L172.6,221.4Z M175.6,225.7 L176.9,226.5 L178.2,227.2 L179.2,225.4 L177.9,224.6 L176.6,223.9Z M179.5,227.9 L180.8,228.7 L182.2,229.4 L182.4,229.5 L183.4,227.6 L183.2,227.5 L181.8,226.8 L180.5,226.1Z M183.7,230.2 L185.1,230.9 L186.4,231.5 L187.4,229.6 L186.0,229.0 L184.7,228.3Z M187.8,232.2 L189.2,232.8 L190.6,233.4 L190.8,233.5 L191.7,231.5 L191.4,231.4 L190.1,230.8 L188.7,230.2Z M192.2,234.1 L193.6,234.7 L194.5,235.1 L195.3,233.1 L194.4,232.7 L193.0,232.1Z" fill="#3aad6b"/>
<path d="M55.9,34.4 L56.4,36.1 L56.9,37.8 L57.4,39.5 L57.8,41.1 L58.3,42.8 L58.8,44.5 L59.3,46.2 L59.8,47.9 L60.3,49.5 L60.9,51.2 L61.4,52.9 L61.9,54.6 L62.4,56.2 L63.0,57.9 L63.5,59.6 L64.0,61.2 L64.6,62.9 L65.1,64.6 L65.7,66.2 L66.3,67.9 L66.8,69.6 L67.4,71.2 L68.0,72.9 L68.6,74.5 L69.1,76.2 L69.7,77.8 L70.3,79.5 L70.9,81.1 L71.6,82.8 L72.2,84.4 L72.8,86.0 L73.4,87.7 L74.1,89.3 L74.7,91.0 L75.4,92.6 L76.0,94.2 L76.7,95.8 L77.3,97.5 L78.0,99.1 L78.7,100.7 L79.4,102.3 L80.1,103.9 L80.8,105.5 L81.5,107.1 L82.2,108.7 L82.9,110.3 L83.7,111.9 L84.4,113.5 L85.2,115.1 L85.9,116.7 L86.7,118.3 L87.5,119.9 L88.2,121.4 L89.0,123.0 L89.8,124.6 L90.6,126.1 L91.4,127.7 L92.2,129.2 L93.1,130.8 L93.9,132.3 L94.8,133.9 L95.6,135.4 L96.5,136.9 L97.3,138.5 L98.2,140.0 L99.1,141.5 L100.0,143.0 L100.9,144.5 L101.8,146.0 L102.8,147.5 L103.7,149.0 L104.7,150.5 L105.6,151.9 L106.6,153.4 L107.5,154.9 L108.5,156.3 L109.5,157.8 L110.5,159.2 L111.5,160.6 L112.6,162.1 L113.6,163.5 L114.6,164.9 L115.7,166.3 L116.8,167.7 L117.8,169.1 L118.9,170.5 L120.0,171.9 L121.1,173.2 L122.2,174.6 L123.3,176.0 L124.5,177.3 L125.6,178.6 L126.8,180.0 L127.9,181.3 L129.1,182.6 L130.3,183.9 L131.5,185.2 L132.7,186.4 L133.9,187.7 L135.1,189.0 L136.4,190.2 L137.6,191.5 L138.8,192.7 L140.1,194.0 L141.4,195.2 L142.6,196.4 L143.9,197.6 L145.2,198.8 L146.5,200.0 L147.8,201.1 L149.1,202.3 L150.5,203.5 L151.8,204.6 L153.2,205.7 L154.5,206.8 L155.9,208.0 L157.2,209.0 L158.6,210.1 L160.0,211.2 L161.4,212.3 L162.8,213.3 L164.2,214.4 L165.7,215.4 L167.1,216.4 L168.5,217.4 L170.0,218.4 L171.5,219.4 L172.9,220.4 L174.4,221.3 L175.9,222.3 L177.4,223.2 L178.9,224.1 L180.4,225.0 L181.9,225.9 L183.4,226.8 L184.9,227.7 L186.5,228.5 L188.0,229.4 L189.6,230.2 L191.1,231.0 L192.7,231.8 L194.3,232.6 L195.9,233.4 L197.4,234.1 L199.0,234.9 L200.6,235.6 L202.2,236.4 L203.8,237.1 L205.5,237.8 L207.1,238.5 L208.7,239.1 L210.3,239.8 L211.9,240.5 L213.6,241.1 L215.2,241.8 L216.9,242.4 L218.5,243.0 L220.1,243.6 L221.8,244.2 L223.4,244.8 L225.1,245.4 L226.7,246.0 L228.4,246.6 L230.1,247.2 L231.7,247.7 L233.4,248.3 L235.0,248.9 L236.7,249.4 L238.4,250.0 L240.0,250.5 L241.7,251.0 L243.4,251.6 L245.0,252.1 L246.7,252.6 L248.4,253.2 L250.0,253.7 L251.7,254.2 L253.4,254.8 L255.1,255.3 L256.7,255.8 L258.4,256.3 L260.1,256.8 L261.7,257.4 L263.4,257.9 L265.1,258.4 L266.7,258.9 L268.4,259.5 L270.1,260.0 L271.7,260.5 L273.4,261.1 L275.0,261.6 L276.7,262.2 L278.3,262.8 L280.0,263.4 L281.6,264.0 L283.2,264.6 L284.9,265.2 L286.5,265.8 L288.1,266.5 L289.7,267.1 L291.3,267.8 L292.9,268.5 L294.5,269.2 L296.0,270.0 L297.6,270.7 L299.2,271.5 L300.7,272.3 L302.2,273.1 L303.7,274.0 L305.2,274.8 L306.7,275.7 L308.2,276.6 L309.6,277.6 L311.1,278.5 L312.5,279.5 L313.9,280.5 L315.3,281.6 L316.7,282.6 L318.0,283.7 L319.4,284.8 L320.7,286.0 L321.9,287.1 L323.2,288.3 L324.5,289.5 L325.7,290.7 L327.1,289.4 L325.8,288.1 L324.6,286.9 L323.3,285.6 L322.0,284.4 L320.7,283.3 L319.3,282.1 L318.0,281.0 L316.6,279.9 L315.2,278.8 L313.8,277.8 L312.3,276.8 L310.8,275.8 L309.4,274.8 L307.9,273.9 L306.4,272.9 L304.8,272.0 L303.3,271.2 L301.7,270.3 L300.2,269.5 L298.6,268.7 L297.0,267.9 L295.4,267.2 L293.8,266.4 L292.2,265.7 L290.6,265.0 L289.0,264.3 L287.3,263.7 L285.7,263.0 L284.1,262.4 L282.4,261.8 L280.8,261.2 L279.1,260.6 L277.5,260.0 L275.8,259.4 L274.1,258.9 L272.5,258.3 L270.8,257.8 L269.1,257.2 L267.5,256.7 L265.8,256.1 L264.1,255.6 L262.4,255.1 L260.8,254.6 L259.1,254.0 L257.4,253.5 L255.8,253.0 L254.1,252.5 L252.4,252.0 L250.8,251.4 L249.1,250.9 L247.4,250.4 L245.8,249.9 L244.1,249.3 L242.4,248.8 L240.8,248.3 L239.1,247.7 L237.4,247.2 L235.8,246.6 L234.1,246.1 L232.5,245.5 L230.8,244.9 L229.2,244.4 L227.5,243.8 L225.9,243.2 L224.2,242.6 L222.6,242.0 L221.0,241.4 L219.3,240.8 L217.7,240.2 L216.1,239.6 L214.4,239.0 L212.8,238.3 L211.2,237.7 L209.6,237.0 L208.0,236.3 L206.4,235.6 L204.8,235.0 L203.2,234.3 L201.6,233.5 L200.0,232.8 L198.4,232.1 L196.9,231.3 L195.3,230.6 L193.7,229.8 L192.2,229.0 L190.6,228.2 L189.1,227.4 L187.6,226.6 L186.0,225.7 L184.5,224.9 L183.0,224.0 L181.5,223.1 L180.0,222.2 L178.5,221.3 L177.0,220.4 L175.6,219.5 L174.1,218.5 L172.7,217.6 L171.2,216.6 L169.8,215.6 L168.3,214.7 L166.9,213.7 L165.5,212.6 L164.1,211.6 L162.7,210.6 L161.3,209.5 L159.9,208.5 L158.5,207.4 L157.2,206.3 L155.8,205.2 L154.5,204.1 L153.1,203.0 L151.8,201.9 L150.5,200.8 L149.2,199.6 L147.9,198.5 L146.6,197.3 L145.3,196.1 L144.0,194.9 L142.7,193.7 L141.5,192.5 L140.2,191.3 L139.0,190.1 L137.8,188.9 L136.5,187.6 L135.3,186.3 L134.1,185.1 L133.0,183.8 L131.8,182.5 L130.6,181.2 L129.5,179.9 L128.3,178.6 L127.2,177.3 L126.0,176.0 L124.9,174.6 L123.8,173.3 L122.7,171.9 L121.6,170.6 L120.6,169.2 L119.5,167.8 L118.4,166.4 L117.4,165.1 L116.3,163.7 L115.3,162.2 L114.3,160.8 L113.3,159.4 L112.3,158.0 L111.3,156.5 L110.3,155.1 L109.3,153.7 L108.4,152.2 L107.4,150.7 L106.5,149.3 L105.6,147.8 L104.6,146.3 L103.7,144.8 L102.8,143.4 L101.9,141.9 L101.0,140.4 L100.2,138.9 L99.3,137.3 L98.4,135.8 L97.6,134.3 L96.7,132.8 L95.9,131.2 L95.1,129.7 L94.2,128.2 L93.4,126.6 L92.6,125.1 L91.8,123.5 L91.0,122.0 L90.3,120.4 L89.5,118.8 L88.7,117.3 L88.0,115.7 L87.2,114.1 L86.5,112.5 L85.8,111.0 L85.0,109.4 L84.3,107.8 L83.6,106.2 L82.9,104.6 L82.2,103.0 L81.5,101.4 L80.8,99.8 L80.2,98.2 L79.5,96.6 L78.8,95.0 L78.2,93.3 L77.5,91.7 L76.9,90.1 L76.2,88.5 L75.6,86.8 L75.0,85.2 L74.4,83.6 L73.7,81.9 L73.1,80.3 L72.5,78.7 L71.9,77.0 L71.4,75.4 L70.8,73.7 L70.2,72.1 L69.6,70.4 L69.1,68.8 L68.5,67.1 L67.9,65.5 L67.4,63.8 L66.8,62.2 L66.3,60.5 L65.8,58.8 L65.2,57.2 L64.7,55.5 L64.2,53.9 L63.6,52.2 L63.1,50.5 L62.6,48.8 L62.1,47.2 L61.6,45.5 L61.1,43.8 L60.6,42.1 L60.1,40.5 L59.6,38.8 L59.2,37.1 L58.7,35.4 L58.2,33.8Z" fill="#b07ade"/>
<path d="M73.0,23.4 L73.4,24.8 L73.8,26.3 L74.2,27.7 L74.6,29.2 L75.0,30.6 L75.1,30.8 L77.2,30.3 L77.2,30.0 L76.8,28.6 L76.4,27.1 L76.0,25.7 L75.6,24.2 L75.2,22.8Z M75.5,32.3 L75.9,33.7 L76.3,35.2 L76.7,36.6 L77.1,38.1 L77.5,39.5 L77.6,40.0 L79.8,39.4 L79.6,38.9 L79.2,37.5 L78.8,36.0 L78.4,34.6 L78.0,33.1 L77.6,31.7Z M78.0,41.5 L78.4,42.9 L78.8,44.3 L79.2,45.8 L79.6,47.2 L80.0,48.7 L80.1,48.9 L82.2,48.3 L82.2,48.1 L81.8,46.6 L81.4,45.2 L81.0,43.7 L80.6,42.3 L80.2,40.9Z M80.5,50.4 L80.9,51.8 L81.3,53.3 L81.7,54.7 L82.1,56.1 L82.5,57.6 L82.7,58.3 L84.9,57.7 L84.7,57.0 L84.2,55.5 L83.8,54.1 L83.4,52.7 L83.0,51.2 L82.6,49.8Z M83.1,59.8 L83.5,61.2 L83.9,62.6 L84.4,64.1 L84.8,65.5 L85.2,67.0 L85.4,67.7 L87.6,67.1 L87.3,66.3 L86.9,64.9 L86.5,63.5 L86.1,62.0 L85.7,60.6 L85.3,59.1Z M85.8,69.1 L86.3,70.6 L86.7,72.0 L87.1,73.5 L87.6,74.9 L88.0,76.3 L88.1,76.6 L90.2,75.9 L90.1,75.7 L89.7,74.2 L89.3,72.8 L88.8,71.4 L88.4,69.9 L88.0,68.5Z M88.5,78.0 L88.9,79.4 L89.4,80.9 L89.6,81.6 L91.7,80.9 L91.5,80.2 L91.1,78.8 L90.6,77.3Z M89.8,82.1 L90.2,83.5 L90.7,84.9 L91.1,86.4 L91.2,86.6 L93.3,85.9 L93.2,85.7 L92.8,84.3 L92.3,82.8 L91.9,81.4Z M91.6,88.0 L92.1,89.5 L92.6,90.9 L93.0,92.3 L93.5,93.7 L93.7,94.2 L95.8,93.5 L95.6,93.1 L95.1,91.6 L94.7,90.2 L94.2,88.8 L93.8,87.4Z M94.1,95.7 L94.6,97.1 L95.1,98.5 L95.6,99.9 L96.1,101.3 L96.5,102.5 L98.6,101.8 L98.2,100.6 L97.7,99.2 L97.2,97.8 L96.7,96.4 L96.2,94.9Z M97.0,103.9 L97.5,105.4 L98.0,106.8 L98.4,107.7 L100.4,107.0 L100.1,106.0 L99.6,104.6 L99.1,103.2Z M98.7,108.7 L99.2,110.1 L99.8,111.5 L100.1,112.4 L102.2,111.6 L101.8,110.7 L101.3,109.3 L100.8,107.9Z M100.4,113.1 L100.9,114.5 L101.4,115.9 L101.8,116.9 L103.9,116.1 L103.5,115.1 L103.0,113.7 L102.4,112.3Z M102.1,117.6 L102.6,119.0 L103.2,120.4 L103.6,121.3 L105.6,120.5 L105.2,119.5 L104.7,118.2 L104.1,116.8Z M103.8,122.0 L104.4,123.4 L105.0,124.8 L105.4,125.7 L107.4,124.9 L107.0,123.9 L106.4,122.5 L105.9,121.2Z M105.7,126.4 L106.3,127.8 L106.8,129.2 L107.2,130.1 L109.2,129.2 L108.8,128.3 L108.3,126.9 L107.7,125.5Z M107.6,131.0 L108.2,132.4 L108.9,133.7 L109.3,134.7 L111.2,133.8 L110.8,132.9 L110.2,131.5 L109.6,130.1Z M109.6,135.3 L110.2,136.7 L110.8,138.1 L111.3,139.0 L113.2,138.1 L112.8,137.2 L112.2,135.8 L111.5,134.5Z M111.6,139.7 L112.2,141.0 L112.9,142.4 L113.3,143.3 L115.2,142.4 L114.8,141.5 L114.2,140.1 L113.5,138.8Z M113.7,144.0 L114.3,145.3 L115.0,146.7 L115.4,147.6 L117.3,146.6 L116.9,145.7 L116.2,144.4 L115.6,143.0Z M115.8,148.2 L116.5,149.6 L117.2,150.9 L117.6,151.8 L119.5,150.8 L119.1,149.9 L118.4,148.6 L117.7,147.3Z M118.1,152.7 L118.8,154.0 L119.4,155.1 L121.3,154.1 L120.7,153.0 L120.0,151.7Z M120.2,156.4 L120.9,157.7 L121.6,159.0 L123.5,158.0 L122.7,156.7 L122.0,155.4Z M122.4,160.4 L123.1,161.7 L123.8,162.7 L125.6,161.7 L124.9,160.6 L124.2,159.3Z M124.7,164.2 L125.5,165.5 L126.1,166.6 L127.9,165.5 L127.2,164.4 L126.5,163.2Z M127.1,168.1 L127.9,169.4 L128.6,170.4 L130.3,169.3 L129.6,168.3 L128.8,167.0Z M129.5,171.9 L130.3,173.1 L131.0,174.2 L132.7,173.0 L132.0,172.0 L131.2,170.8Z M131.9,175.4 L132.8,176.7 L133.6,177.9 L135.3,176.7 L134.4,175.5 L133.6,174.3Z M134.5,179.1 L135.4,180.3 L136.1,181.4 L137.7,180.2 L137.0,179.2 L136.1,178.0Z M137.2,182.8 L138.1,184.0 L138.8,185.0 L140.4,183.8 L139.7,182.8 L138.8,181.6Z M139.9,186.4 L140.9,187.5 L141.6,188.5 L143.2,187.3 L142.4,186.3 L141.5,185.1Z M142.8,189.9 L143.7,191.0 L144.5,192.0 L146.0,190.8 L145.2,189.8 L144.3,188.6Z M145.5,193.2 L146.5,194.3 L147.5,195.4 L148.9,194.2 L147.9,193.0 L147.0,191.9Z M148.5,196.6 L149.5,197.7 L150.3,198.6 L151.7,197.3 L150.9,196.4 L149.9,195.3Z M151.5,199.9 L152.6,201.0 L153.4,201.9 L154.8,200.6 L153.9,199.7 L152.9,198.6Z M154.6,203.2 L155.7,204.2 L156.6,205.1 L157.9,203.8 L157.0,202.9 L156.0,201.9Z M157.8,206.4 L158.9,207.4 L159.8,208.3 L161.1,207.0 L160.2,206.1 L159.1,205.0Z M160.9,209.3 L162.0,210.4 L163.1,211.4 L164.4,210.0 L163.3,209.0 L162.2,208.0Z M164.2,212.4 L165.3,213.4 L166.3,214.3 L167.5,212.8 L166.6,212.0 L165.5,211.0Z M167.6,215.4 L168.7,216.4 L169.7,217.2 L170.9,215.7 L170.0,214.9 L168.9,213.9Z M171.1,218.3 L172.2,219.3 L173.2,220.1 L174.4,218.5 L173.5,217.8 L172.3,216.8Z M174.6,221.2 L175.8,222.1 L176.8,222.8 L178.0,221.3 L177.0,220.5 L175.8,219.6Z M178.0,223.8 L179.2,224.7 L180.4,225.5 L181.6,223.9 L180.4,223.1 L179.2,222.2Z M181.6,226.4 L182.9,227.3 L183.9,228.0 L185.0,226.3 L184.0,225.6 L182.8,224.8Z M185.4,229.0 L186.6,229.8 L187.6,230.5 L188.8,228.8 L187.7,228.1 L186.5,227.3Z M189.1,231.5 L190.4,232.3 L191.5,233.0 L192.6,231.2 L191.5,230.6 L190.2,229.8Z M193.0,233.9 L194.3,234.7 L195.3,235.3 L196.4,233.5 L195.3,232.9 L194.0,232.1Z M196.7,236.1 L198.0,236.8 L199.3,237.5 L200.3,235.7 L199.0,235.0 L197.7,234.2Z M200.6,238.3 L201.9,239.0 L203.0,239.6 L204.0,237.7 L202.9,237.1 L201.6,236.4Z M204.6,240.4 L206.0,241.0 L207.1,241.6 L208.0,239.7 L206.9,239.1 L205.6,238.5Z M208.7,242.4 L210.0,243.0 L211.1,243.6 L212.1,241.6 L210.9,241.1 L209.6,240.5Z M212.7,244.3 L214.1,244.9 L215.3,245.5 L216.1,243.5 L215.0,243.0 L213.6,242.4Z M216.6,246.1 L218.0,246.7 L219.4,247.3 L220.3,245.3 L218.9,244.7 L217.5,244.1Z M220.8,247.8 L222.2,248.4 L223.3,248.9 L224.2,246.9 L223.0,246.4 L221.6,245.8Z M225.0,249.5 L226.4,250.1 L227.6,250.5 L228.3,248.5 L227.2,248.0 L225.8,247.5Z M229.2,251.2 L230.6,251.7 L231.8,252.1 L232.5,250.1 L231.4,249.6 L230.0,249.1Z M233.4,252.7 L234.9,253.2 L236.0,253.6 L236.8,251.6 L235.6,251.2 L234.2,250.6Z M237.5,254.1 L238.9,254.6 L240.3,255.1 L241.0,253.0 L239.6,252.5 L238.2,252.0Z M241.7,255.6 L243.2,256.0 L244.4,256.4 L245.0,254.3 L243.9,253.9 L242.4,253.5Z M246.0,257.0 L247.5,257.4 L248.7,257.8 L249.3,255.6 L248.1,255.3 L246.7,254.8Z M250.4,258.3 L251.8,258.7 L253.0,259.1 L253.6,256.9 L252.4,256.6 L251.0,256.1Z M254.7,259.6 L256.1,260.0 L257.3,260.3 L257.9,258.1 L256.7,257.8 L255.3,257.4Z M258.8,260.7 L260.2,261.1 L261.7,261.5 L262.3,259.3 L260.8,258.9 L259.4,258.5Z M263.1,261.9 L264.6,262.3 L265.8,262.6 L266.4,260.4 L265.2,260.1 L263.7,259.7Z M267.5,263.0 L269.0,263.4 L270.2,263.7 L270.7,261.5 L269.5,261.2 L268.1,260.8Z M271.9,264.1 L273.4,264.5 L274.6,264.7 L275.1,262.5 L273.9,262.3 L272.4,261.9Z M276.3,265.1 L277.7,265.5 L279.0,265.8 L279.5,263.5 L278.2,263.3 L276.8,262.9Z M280.4,266.1 L281.9,266.4 L283.4,266.7 L283.9,264.5 L282.4,264.2 L280.9,263.9Z M284.8,267.0 L286.3,267.3 L287.5,267.6 L288.0,265.4 L286.8,265.1 L285.3,264.8Z M289.2,268.0 L290.6,268.4 L291.8,268.7 L292.4,266.5 L291.2,266.2 L289.7,265.8Z M293.4,269.2 L294.8,269.7 L296.0,270.1 L296.8,268.1 L295.6,267.6 L294.2,267.1Z M297.5,270.8 L298.8,271.4 L299.9,272.0 L300.9,270.2 L299.8,269.5 L298.5,268.9Z M301.2,272.7 L302.4,273.5 L303.6,274.3 L304.8,272.6 L303.5,271.8 L302.3,271.0Z M304.8,275.2 L306.0,276.0 L307.0,276.8 L308.2,275.2 L307.2,274.5 L306.0,273.6Z M308.4,277.9 L309.5,278.8 L310.5,279.6 L311.7,278.1 L310.8,277.3 L309.6,276.4Z M311.8,280.7 L312.9,281.7 L313.9,282.5 L315.1,281.1 L314.2,280.3 L313.1,279.3Z M315.2,283.7 L316.3,284.7 L316.5,284.9 L317.8,283.4 L317.6,283.3 L316.4,282.3Z" fill="#b07ade"/>
<path d="M65.9,21.5 L66.4,23.2 L66.8,24.9 L67.3,26.6 L67.7,28.3 L68.2,30.0 L68.6,31.7 L69.1,33.4 L69.5,35.1 L70.0,36.8 L70.5,38.4 L71.0,40.1 L71.5,41.8 L71.9,43.5 L72.4,45.2 L72.9,46.9 L73.4,48.5 L73.9,50.2 L74.5,51.9 L75.0,53.6 L75.5,55.2 L76.0,56.9 L76.5,58.6 L77.1,60.3 L77.6,61.9 L78.2,63.6 L78.7,65.3 L79.3,66.9 L79.8,68.6 L80.4,70.2 L81.0,71.9 L81.6,73.6 L82.1,75.2 L82.7,76.9 L83.3,78.5 L83.9,80.2 L84.5,81.8 L85.2,83.4 L85.8,85.1 L86.4,86.7 L87.0,88.4 L87.7,90.0 L88.3,91.6 L89.0,93.3 L89.6,94.9 L90.3,96.5 L91.0,98.1 L91.6,99.7 L92.3,101.4 L93.0,103.0 L93.7,104.6 L94.4,106.2 L95.1,107.8 L95.9,109.4 L96.6,111.0 L97.3,112.6 L98.1,114.2 L98.8,115.8 L99.6,117.3 L100.4,118.9 L101.1,120.5 L101.9,122.1 L102.7,123.6 L103.5,125.2 L104.3,126.8 L105.1,128.3 L105.9,129.9 L106.8,131.4 L107.6,133.0 L108.5,134.5 L109.3,136.0 L110.2,137.6 L111.1,139.1 L111.9,140.6 L112.8,142.1 L113.7,143.6 L114.6,145.1 L115.6,146.6 L116.5,148.1 L117.4,149.6 L118.4,151.1 L119.3,152.5 L120.3,154.0 L121.3,155.5 L122.3,156.9 L123.2,158.4 L124.2,159.8 L125.3,161.3 L126.3,162.7 L127.3,164.1 L128.4,165.5 L129.4,166.9 L130.5,168.3 L131.5,169.7 L132.6,171.1 L133.7,172.5 L134.8,173.9 L135.9,175.2 L137.0,176.6 L138.2,177.9 L139.3,179.3 L140.5,180.6 L141.6,181.9 L142.8,183.2 L144.0,184.5 L145.2,185.8 L146.4,187.1 L147.6,188.4 L148.8,189.6 L150.0,190.9 L151.3,192.1 L152.5,193.4 L153.8,194.6 L155.0,195.8 L156.3,197.1 L157.6,198.3 L158.9,199.5 L160.2,200.6 L161.5,201.8 L162.8,203.0 L164.1,204.1 L165.4,205.3 L166.8,206.4 L168.1,207.5 L169.5,208.7 L170.9,209.8 L172.2,210.9 L173.6,211.9 L175.0,213.0 L176.4,214.1 L177.8,215.1 L179.3,216.2 L180.7,217.2 L182.1,218.2 L183.6,219.2 L185.0,220.2 L186.5,221.2 L187.9,222.1 L189.4,223.1 L190.9,224.0 L192.4,225.0 L193.9,225.9 L195.4,226.8 L196.9,227.7 L198.4,228.6 L200.0,229.5 L201.5,230.3 L203.0,231.2 L204.6,232.0 L206.1,232.8 L207.7,233.6 L209.3,234.4 L210.9,235.2 L212.4,236.0 L214.0,236.7 L215.6,237.5 L217.2,238.2 L218.8,238.9 L220.4,239.6 L222.1,240.3 L223.7,241.0 L225.3,241.6 L226.9,242.3 L228.6,242.9 L230.2,243.6 L231.9,244.2 L233.5,244.8 L235.1,245.4 L236.8,246.0 L238.5,246.6 L240.1,247.2 L241.8,247.8 L243.4,248.3 L245.1,248.9 L246.8,249.5 L248.4,250.0 L250.1,250.5 L251.8,251.1 L253.4,251.6 L255.1,252.1 L256.8,252.7 L258.5,253.2 L260.1,253.7 L261.8,254.2 L263.5,254.7 L265.2,255.2 L266.8,255.7 L268.5,256.2 L270.2,256.7 L271.9,257.2 L273.6,257.7 L275.3,258.1 L276.9,258.6 L278.6,259.1 L280.3,259.6 L282.0,260.1 L283.7,260.6 L285.3,261.1 L287.0,261.6 L288.7,262.1 L290.4,262.5 L292.0,263.0 L293.7,263.5 L295.4,264.0 L297.1,264.6 L298.7,265.1 L300.4,265.6 L302.1,266.1 L303.7,266.6 L305.4,267.1 L307.1,267.7 L308.7,268.2 L310.4,268.8 L312.0,269.3 L313.7,269.9 L315.3,270.4 L317.0,271.0 L318.6,271.6 L320.3,272.2 L321.9,272.8 L323.6,273.4 L325.2,274.0 L326.8,274.6 L328.4,275.3 L330.1,275.9 L331.7,276.5 L333.3,277.2 L334.9,277.9 L336.5,278.6 L338.1,279.3 L339.7,280.0 L341.3,280.7 L342.8,281.4 L344.4,282.2 L346.0,283.0 L347.5,283.7 L349.1,284.5 L350.6,285.3 L352.2,286.1 L353.7,287.0 L355.2,287.8 L356.7,288.7 L358.2,289.6 L359.3,287.6 L357.8,286.8 L356.3,285.9 L354.8,285.0 L353.2,284.2 L351.7,283.3 L350.1,282.5 L348.5,281.7 L347.0,280.9 L345.4,280.1 L343.8,279.4 L342.2,278.6 L340.6,277.9 L339.0,277.2 L337.4,276.5 L335.8,275.8 L334.2,275.1 L332.6,274.4 L330.9,273.7 L329.3,273.1 L327.7,272.4 L326.0,271.8 L324.4,271.2 L322.7,270.6 L321.1,270.0 L319.4,269.4 L317.8,268.8 L316.1,268.2 L314.5,267.6 L312.8,267.1 L311.1,266.5 L309.5,266.0 L307.8,265.4 L306.1,264.9 L304.5,264.4 L302.8,263.8 L301.1,263.3 L299.4,262.8 L297.8,262.3 L296.1,261.8 L294.4,261.3 L292.7,260.8 L291.0,260.3 L289.4,259.8 L287.7,259.3 L286.0,258.8 L284.3,258.3 L282.6,257.8 L281.0,257.3 L279.3,256.8 L277.6,256.3 L275.9,255.9 L274.2,255.4 L272.6,254.9 L270.9,254.4 L269.2,253.9 L267.5,253.4 L265.8,252.9 L264.2,252.4 L262.5,251.9 L260.8,251.4 L259.2,250.9 L257.5,250.4 L255.8,249.9 L254.1,249.3 L252.5,248.8 L250.8,248.3 L249.2,247.8 L247.5,247.2 L245.8,246.7 L244.2,246.1 L242.5,245.5 L240.9,245.0 L239.2,244.4 L237.6,243.8 L236.0,243.2 L234.3,242.6 L232.7,242.0 L231.1,241.4 L229.4,240.8 L227.8,240.1 L226.2,239.5 L224.6,238.8 L223.0,238.2 L221.4,237.5 L219.8,236.8 L218.2,236.1 L216.6,235.4 L215.0,234.6 L213.4,233.9 L211.9,233.1 L210.3,232.4 L208.7,231.6 L207.2,230.8 L205.6,230.0 L204.1,229.2 L202.6,228.4 L201.1,227.5 L199.5,226.7 L198.0,225.8 L196.5,224.9 L195.0,224.0 L193.6,223.1 L192.1,222.2 L190.6,221.3 L189.1,220.3 L187.7,219.4 L186.2,218.4 L184.8,217.4 L183.4,216.4 L181.9,215.4 L180.5,214.4 L179.1,213.4 L177.7,212.4 L176.3,211.3 L174.9,210.3 L173.5,209.2 L172.2,208.1 L170.8,207.0 L169.4,205.9 L168.1,204.8 L166.8,203.7 L165.4,202.6 L164.1,201.5 L162.8,200.3 L161.5,199.1 L160.2,198.0 L158.9,196.8 L157.7,195.6 L156.4,194.4 L155.1,193.2 L153.9,192.0 L152.7,190.8 L151.4,189.5 L150.2,188.3 L149.0,187.0 L147.8,185.7 L146.6,184.5 L145.5,183.2 L144.3,181.9 L143.1,180.6 L142.0,179.3 L140.9,177.9 L139.7,176.6 L138.6,175.3 L137.5,173.9 L136.4,172.6 L135.3,171.2 L134.3,169.8 L133.2,168.4 L132.1,167.1 L131.1,165.7 L130.1,164.3 L129.0,162.9 L128.0,161.4 L127.0,160.0 L126.0,158.6 L125.0,157.2 L124.0,155.7 L123.1,154.3 L122.1,152.8 L121.2,151.4 L120.2,149.9 L119.3,148.4 L118.4,146.9 L117.4,145.5 L116.5,144.0 L115.6,142.5 L114.7,141.0 L113.9,139.5 L113.0,138.0 L112.1,136.5 L111.3,134.9 L110.4,133.4 L109.6,131.9 L108.8,130.3 L107.9,128.8 L107.1,127.3 L106.3,125.7 L105.5,124.2 L104.7,122.6 L103.9,121.1 L103.2,119.5 L102.4,117.9 L101.6,116.4 L100.9,114.8 L100.2,113.2 L99.4,111.6 L98.7,110.0 L98.0,108.4 L97.2,106.9 L96.5,105.3 L95.8,103.7 L95.1,102.1 L94.5,100.5 L93.8,98.8 L93.1,97.2 L92.4,95.6 L91.8,94.0 L91.1,92.4 L90.5,90.8 L89.8,89.1 L89.2,87.5 L88.6,85.9 L88.0,84.3 L87.3,82.6 L86.7,81.0 L86.1,79.3 L85.5,77.7 L84.9,76.1 L84.4,74.4 L83.8,72.8 L83.2,71.1 L82.6,69.5 L82.1,67.8 L81.5,66.2 L81.0,64.5 L80.4,62.9 L79.9,61.2 L79.3,59.5 L78.8,57.9 L78.3,56.2 L77.8,54.5 L77.2,52.9 L76.7,51.2 L76.2,49.5 L75.7,47.9 L75.2,46.2 L74.7,44.5 L74.2,42.8 L73.7,41.1 L73.3,39.5 L72.8,37.8 L72.3,36.1 L71.8,34.4 L71.4,32.7 L70.9,31.1 L70.5,29.4 L70.0,27.7 L69.6,26.0 L69.1,24.3 L68.7,22.6 L68.2,20.9Z" fill="#cc9900"/>
<path d="M83.8,20.6 L84.1,22.1 L84.4,23.6 L84.7,25.0 L85.1,26.5 L85.4,28.0 L87.6,27.5 L87.3,26.0 L87.0,24.6 L86.7,23.1 L86.4,21.6 L86.1,20.2Z M85.7,29.4 L86.0,30.9 L86.3,32.4 L86.6,33.8 L87.0,35.3 L87.3,36.8 L89.5,36.3 L89.2,34.8 L88.9,33.3 L88.5,31.9 L88.2,30.4 L87.9,29.0Z M87.6,38.2 L88.0,39.7 L88.3,41.2 L88.6,42.6 L89.0,44.1 L89.3,45.6 L89.4,45.8 L91.6,45.3 L91.5,45.0 L91.2,43.6 L90.8,42.1 L90.5,40.7 L90.2,39.2 L89.8,37.7Z M89.7,47.3 L90.1,48.7 L90.4,50.2 L90.8,51.6 L90.8,51.9 L93.0,51.3 L93.0,51.1 L92.6,49.6 L92.3,48.2 L91.9,46.7Z M91.0,52.4 L91.3,53.8 L91.7,55.3 L92.0,56.7 L92.4,58.2 L92.8,59.7 L95.0,59.1 L94.6,57.6 L94.2,56.2 L93.9,54.7 L93.5,53.3 L93.1,51.8Z M93.2,61.1 L93.5,62.6 L93.9,64.0 L94.3,65.5 L94.7,66.9 L95.1,68.4 L95.3,69.1 L97.5,68.5 L97.3,67.8 L96.9,66.3 L96.5,64.9 L96.1,63.4 L95.7,62.0 L95.3,60.5Z M95.7,70.5 L96.1,72.0 L96.5,73.4 L96.9,74.9 L97.3,76.3 L97.8,77.8 L97.8,78.0 L100.0,77.4 L99.9,77.1 L99.5,75.7 L99.1,74.3 L98.7,72.8 L98.3,71.4 L97.9,69.9Z M98.3,79.5 L98.7,80.9 L99.1,82.3 L99.6,83.8 L100.0,85.2 L100.4,86.6 L102.6,86.0 L102.1,84.5 L101.7,83.1 L101.3,81.7 L100.8,80.3 L100.4,78.8Z M100.9,88.1 L101.4,89.5 L101.8,90.9 L102.3,92.4 L102.7,93.8 L103.2,95.2 L103.5,95.9 L105.6,95.2 L105.3,94.5 L104.9,93.1 L104.4,91.7 L103.9,90.3 L103.5,88.8 L103.0,87.4Z M103.9,97.4 L104.4,98.8 L104.9,100.2 L105.4,101.6 L105.9,103.0 L106.1,103.5 L108.2,102.8 L108.0,102.3 L107.5,100.9 L107.0,99.5 L106.5,98.1 L106.0,96.7Z M106.6,104.9 L107.1,106.3 L107.6,107.8 L108.0,108.7 L110.0,107.9 L109.7,107.0 L109.2,105.6 L108.7,104.2Z M108.3,109.6 L108.8,111.0 L109.4,112.5 L109.7,113.4 L111.8,112.6 L111.4,111.7 L110.9,110.3 L110.4,108.9Z M110.0,114.1 L110.6,115.5 L111.1,116.9 L111.5,117.8 L113.5,117.0 L113.1,116.1 L112.6,114.7 L112.1,113.3Z M111.8,118.5 L112.3,119.9 L112.9,121.3 L113.3,122.2 L115.3,121.4 L114.9,120.5 L114.4,119.1 L113.8,117.7Z M113.6,122.9 L114.2,124.3 L114.7,125.7 L115.1,126.6 L117.1,125.8 L116.7,124.8 L116.2,123.5 L115.6,122.1Z M115.4,127.3 L116.1,128.7 L116.7,130.1 L117.1,131.0 L119.0,130.1 L118.6,129.2 L118.0,127.8 L117.4,126.4Z M117.5,131.9 L118.1,133.3 L118.7,134.6 L119.2,135.5 L121.1,134.6 L120.7,133.7 L120.1,132.4 L119.5,131.0Z M119.5,136.2 L120.1,137.6 L120.8,138.9 L121.2,139.8 L123.1,138.9 L122.7,138.0 L122.1,136.7 L121.4,135.3Z M121.5,140.5 L122.2,141.9 L122.9,143.2 L123.3,144.1 L125.2,143.1 L124.8,142.3 L124.1,140.9 L123.5,139.6Z M123.7,144.8 L124.4,146.1 L125.1,147.5 L125.5,148.3 L127.4,147.4 L126.9,146.5 L126.3,145.1 L125.6,143.8Z M125.9,149.0 L126.6,150.3 L127.3,151.7 L127.8,152.5 L129.6,151.5 L129.2,150.7 L128.5,149.3 L127.7,148.0Z M128.3,153.4 L129.0,154.7 L129.6,155.8 L131.5,154.8 L130.8,153.7 L130.1,152.4Z M130.4,157.1 L131.1,158.4 L131.9,159.7 L133.7,158.7 L132.9,157.4 L132.2,156.1Z M132.7,161.0 L133.4,162.3 L134.1,163.4 L135.9,162.3 L135.2,161.3 L134.4,160.0Z M135.0,164.9 L135.8,166.2 L136.5,167.2 L138.2,166.1 L137.6,165.1 L136.8,163.8Z M137.4,168.7 L138.3,170.0 L139.0,171.0 L140.7,169.9 L140.0,168.8 L139.2,167.6Z M139.9,172.5 L140.8,173.7 L141.5,174.7 L143.2,173.6 L142.5,172.6 L141.6,171.3Z M142.4,176.0 L143.2,177.2 L144.1,178.4 L145.7,177.3 L144.9,176.1 L144.0,174.8Z M145.0,179.7 L145.9,180.9 L146.6,181.9 L148.2,180.7 L147.5,179.7 L146.6,178.5Z M147.7,183.3 L148.6,184.5 L149.4,185.5 L150.9,184.3 L150.2,183.3 L149.3,182.1Z M150.5,186.8 L151.4,188.0 L152.2,189.0 L153.7,187.8 L152.9,186.8 L152.0,185.6Z M153.3,190.3 L154.3,191.5 L155.1,192.5 L156.6,191.2 L155.8,190.3 L154.8,189.1Z M156.1,193.6 L157.1,194.7 L158.1,195.9 L159.5,194.6 L158.5,193.5 L157.6,192.3Z M159.1,197.0 L160.1,198.1 L161.0,199.0 L162.4,197.7 L161.5,196.8 L160.5,195.7Z M162.2,200.3 L163.2,201.4 L164.1,202.3 L165.4,201.0 L164.6,200.1 L163.5,199.0Z M165.3,203.5 L166.4,204.6 L167.3,205.5 L168.6,204.2 L167.7,203.3 L166.6,202.2Z M168.5,206.7 L169.6,207.8 L170.5,208.6 L171.8,207.3 L170.9,206.4 L169.8,205.4Z M171.6,209.7 L172.7,210.7 L173.8,211.7 L175.1,210.3 L174.0,209.3 L172.9,208.3Z M174.9,212.7 L176.1,213.7 L177.0,214.6 L178.3,213.1 L177.3,212.3 L176.2,211.3Z M178.3,215.7 L179.5,216.7 L180.4,217.5 L181.7,216.0 L180.7,215.2 L179.6,214.3Z M181.8,218.6 L183.0,219.6 L183.9,220.4 L185.2,218.8 L184.2,218.1 L183.0,217.1Z M185.3,221.5 L186.5,222.4 L187.5,223.1 L188.7,221.6 L187.7,220.8 L186.5,219.9Z M188.7,224.1 L189.9,225.0 L191.1,225.8 L192.3,224.2 L191.1,223.4 L189.9,222.5Z M192.4,226.7 L193.6,227.6 L194.6,228.3 L195.8,226.7 L194.7,226.0 L193.5,225.1Z M196.1,229.3 L197.3,230.2 L198.3,230.9 L199.5,229.2 L198.4,228.5 L197.2,227.6Z M199.8,231.8 L201.1,232.7 L202.1,233.3 L203.2,231.6 L202.2,230.9 L200.9,230.1Z M203.6,234.3 L204.9,235.0 L206.0,235.7 L207.1,233.9 L206.0,233.3 L204.7,232.5Z M207.3,236.5 L208.6,237.2 L209.9,238.0 L210.9,236.2 L209.6,235.4 L208.4,234.7Z M211.2,238.7 L212.5,239.4 L213.7,240.0 L214.7,238.2 L213.6,237.6 L212.2,236.9Z M215.2,240.9 L216.5,241.6 L217.7,242.1 L218.6,240.2 L217.5,239.7 L216.2,239.0Z M219.2,242.9 L220.6,243.6 L221.7,244.1 L222.7,242.2 L221.5,241.7 L220.2,241.0Z M223.3,244.9 L224.7,245.5 L225.8,246.0 L226.7,244.1 L225.6,243.6 L224.2,242.9Z M227.2,246.7 L228.6,247.3 L230.0,247.9 L230.8,245.9 L229.4,245.3 L228.1,244.7Z M231.4,248.4 L232.7,249.0 L233.9,249.5 L234.7,247.5 L233.6,247.0 L232.2,246.4Z M235.5,250.2 L236.9,250.7 L238.1,251.2 L238.9,249.1 L237.7,248.7 L236.3,248.1Z M239.8,251.8 L241.2,252.3 L242.3,252.7 L243.1,250.7 L241.9,250.2 L240.5,249.7Z M244.0,253.3 L245.4,253.8 L246.6,254.3 L247.3,252.2 L246.2,251.8 L244.7,251.3Z M248.0,254.8 L249.4,255.2 L250.9,255.7 L251.6,253.6 L250.2,253.1 L248.7,252.7Z M252.3,256.2 L253.7,256.7 L254.9,257.0 L255.6,254.9 L254.4,254.5 L253.0,254.1Z M256.6,257.6 L258.0,258.0 L259.2,258.4 L259.9,256.3 L258.7,255.9 L257.3,255.4Z M260.9,258.9 L262.3,259.3 L263.5,259.7 L264.2,257.6 L263.0,257.2 L261.6,256.8Z M265.2,260.2 L266.7,260.6 L267.9,261.0 L268.5,258.8 L267.3,258.5 L265.9,258.1Z M269.3,261.4 L270.8,261.8 L272.2,262.2 L272.8,260.1 L271.4,259.7 L269.9,259.2Z M273.6,262.6 L275.1,263.0 L276.3,263.4 L276.9,261.2 L275.7,260.9 L274.3,260.5Z M278.0,263.8 L279.4,264.2 L280.6,264.6 L281.2,262.4 L280.0,262.1 L278.6,261.7Z M282.3,265.0 L283.8,265.4 L285.0,265.7 L285.6,263.6 L284.4,263.2 L282.9,262.8Z M286.7,266.2 L288.1,266.6 L289.3,266.9 L289.9,264.7 L288.7,264.4 L287.3,264.0Z M290.8,267.3 L292.2,267.7 L293.7,268.1 L294.3,265.9 L292.8,265.5 L291.4,265.1Z M295.1,268.4 L296.6,268.8 L297.8,269.2 L298.4,267.0 L297.2,266.7 L295.7,266.3Z M299.5,269.6 L300.9,270.0 L302.1,270.3 L302.7,268.2 L301.5,267.8 L300.1,267.4Z M303.8,270.8 L305.3,271.2 L306.5,271.5 L307.1,269.4 L305.9,269.0 L304.4,268.6Z M308.1,272.0 L309.6,272.4 L310.8,272.8 L311.4,270.6 L310.2,270.3 L308.8,269.8Z M312.2,273.2 L313.7,273.6 L315.1,274.0 L315.7,271.9 L314.3,271.4 L312.8,271.0Z M316.5,274.4 L318.0,274.9 L319.2,275.2 L319.8,273.1 L318.6,272.7 L317.2,272.3Z M320.8,275.8 L322.2,276.2 L323.4,276.6 L324.1,274.5 L322.9,274.1 L321.5,273.6Z M325.1,277.1 L326.5,277.6 L327.7,278.0 L328.4,275.9 L327.2,275.5 L325.8,275.0Z M329.3,278.6 L330.7,279.1 L331.9,279.5 L332.7,277.4 L331.5,277.0 L330.1,276.5Z M333.3,280.0 L334.7,280.5 L336.1,281.0 L336.9,279.0 L335.5,278.4 L334.1,277.9Z M337.5,281.5 L338.9,282.1 L340.1,282.6 L340.9,280.5 L339.7,280.1 L338.3,279.5Z M341.7,283.2 L343.0,283.8 L344.2,284.3 L345.0,282.3 L343.9,281.8 L342.5,281.2Z M345.8,285.0 L347.1,285.6 L348.3,286.1 L349.2,284.1 L348.0,283.6 L346.7,283.0Z M349.9,286.8 L351.2,287.5 L352.3,288.0 L353.3,286.1 L352.1,285.5 L350.8,284.9Z M353.7,288.7 L354.5,289.1 L355.5,287.2 L354.6,286.8Z" fill="#cc9900"/>
</g></g>
<rect x="57.9" y="21.9" width="331.0" height="267.1" fill="none" stroke="#808080" stroke-width="1.8"/>
<path d="M78.70,289.0 v-6 M78.70,21.9 v6 M120.16,289.0 v-3 M120.16,21.9 v3 M161.62,289.0 v-6 M161.62,21.9 v6 M203.08,289.0 v-3 M203.08,21.9 v3 M244.54,289.0 v-6 M244.54,21.9 v6 M286.00,289.0 v-3 M286.00,21.9 v3 M327.46,289.0 v-6 M327.46,21.9 v6 M368.92,289.0 v-3 M368.92,21.9 v3 M57.9,48.61 h3 M388.9,48.61 h-3 M57.9,75.32 h6 M388.9,75.32 h-6 M57.9,102.03 h3 M388.9,102.03 h-3 M57.9,128.74 h6 M388.9,128.74 h-6 M57.9,155.45 h3 M388.9,155.45 h-3 M57.9,182.16 h6 M388.9,182.16 h-6 M57.9,208.87 h3 M388.9,208.87 h-3 M57.9,235.58 h6 M388.9,235.58 h-6 M57.9,262.29 h3 M388.9,262.29 h-3" fill="none" stroke="#808080" stroke-width="1.7"/>
<g filter="url(#b)">
<g fill="#ef4040" stroke="#ef4040" stroke-width="197" shape-rendering="crispEdges"><use href="#gL" stroke-width="227" transform="translate(311.30,49.55) scale(0.006494,0.007075)"/><use href="#g0" transform="translate(335.70,49.55) scale(0.006494,0.007075)"/></g><g fill="#ef4040"><rect x="324.0" y="43.00" width="8.0" height="4.8"/></g>
<g fill="#1a70de" stroke="#1a70de" stroke-width="197" shape-rendering="crispEdges"><use href="#gL" stroke-width="227" transform="translate(311.30,63.55) scale(0.006494,0.007075)"/><use href="#g0" transform="translate(347.00,63.55) scale(0.006494,0.007075)"/><use href="#gp" transform="translate(353.65,63.55) scale(0.006494,0.007075)"/><use href="#g0" transform="translate(356.97,63.55) scale(0.006494,0.007075)"/><use href="#g0" transform="translate(363.62,63.55) scale(0.006494,0.007075)"/><use href="#g1" transform="translate(370.27,63.55) scale(0.006494,0.007075)"/></g><g fill="#1a70de"><rect x="324.0" y="57.00" width="8.0" height="4.8"/><rect x="336.0" y="58.05" width="8.1" height="3.0"/></g>
<g fill="#3aad6b" stroke="#3aad6b" stroke-width="197" shape-rendering="crispEdges"><use href="#gL" stroke-width="227" transform="translate(311.30,77.55) scale(0.006494,0.007075)"/><use href="#g0" transform="translate(347.00,77.55) scale(0.006494,0.007075)"/><use href="#gp" transform="translate(353.65,77.55) scale(0.006494,0.007075)"/><use href="#g0" transform="translate(356.97,77.55) scale(0.006494,0.007075)"/><use href="#g5" transform="translate(363.62,77.55) scale(0.006494,0.007075)"/></g><g fill="#3aad6b"><rect x="324.0" y="71.00" width="8.0" height="4.8"/><rect x="336.0" y="72.05" width="8.1" height="3.0"/></g>
<g fill="#b07ade" stroke="#b07ade" stroke-width="197" shape-rendering="crispEdges"><use href="#gL" stroke-width="227" transform="translate(311.30,91.55) scale(0.006494,0.007075)"/><use href="#g0" transform="translate(347.00,91.55) scale(0.006494,0.007075)"/><use href="#gp" transform="translate(353.65,91.55) scale(0.006494,0.007075)"/><use href="#g0" transform="translate(356.97,91.55) scale(0.006494,0.007075)"/><use href="#g1" transform="translate(363.62,91.55) scale(0.006494,0.007075)"/></g><g fill="#b07ade"><rect x="324.0" y="85.00" width="8.0" height="4.8"/><rect x="336.0" y="86.05" width="8.1" height="3.0"/></g>
<g fill="#cc9900" stroke="#cc9900" stroke-width="197" shape-rendering="crispEdges"><use href="#gL" stroke-width="227" transform="translate(311.30,105.55) scale(0.006494,0.007075)"/><use href="#g0" transform="translate(347.00,105.55) scale(0.006494,0.007075)"/><use href="#gp" transform="translate(353.65,105.55) scale(0.006494,0.007075)"/><use href="#g1" transform="translate(356.97,105.55) scale(0.006494,0.007075)"/></g><g fill="#cc9900"><rect x="324.0" y="99.00" width="8.0" height="4.8"/><rect x="336.0" y="100.05" width="8.1" height="3.0"/></g>
</g>
</svg>
</body></html>
